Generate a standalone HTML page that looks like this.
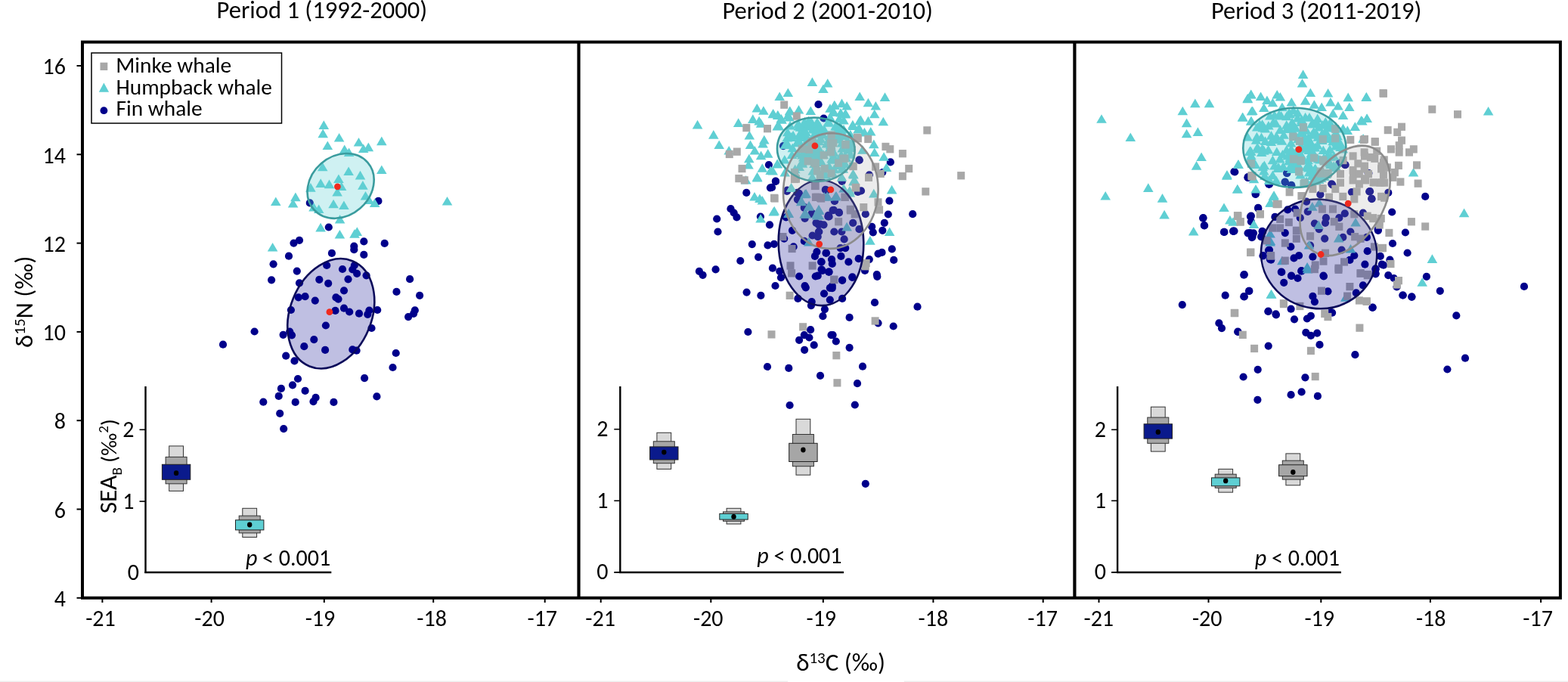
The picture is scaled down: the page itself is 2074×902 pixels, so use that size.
<!DOCTYPE html>
<html><head><meta charset="utf-8"><style>
html,body{margin:0;padding:0;background:#fff;}
svg{display:block;}
text{font-family:Carlito, 'Liberation Sans', sans-serif;fill:#000;}
</style></head><body>
<svg width="2074" height="902" viewBox="0 0 2074 902">
<text x="286.5" y="24.0" font-size="32.6" textLength="278.59" lengthAdjust="spacingAndGlyphs">Period 1 (1992-2000)</text>
<text x="955.4" y="24.6" font-size="32.6" textLength="278.59" lengthAdjust="spacingAndGlyphs">Period 2 (2001-2010)</text>
<text x="1601.9" y="24.6" font-size="32.6" textLength="278.59" lengthAdjust="spacingAndGlyphs">Period 3 (2011-2019)</text>
<line x1="101.5" y1="790.8" x2="108" y2="790.8" stroke="#000" stroke-width="2"/>
<text x="87" y="802.0" font-size="30" text-anchor="end" textLength="15.22" lengthAdjust="spacingAndGlyphs">4</text>
<line x1="101.5" y1="673.5" x2="108" y2="673.5" stroke="#000" stroke-width="2"/>
<text x="87" y="684.7" font-size="30" text-anchor="end" textLength="15.22" lengthAdjust="spacingAndGlyphs">6</text>
<line x1="101.5" y1="556.2" x2="108" y2="556.2" stroke="#000" stroke-width="2"/>
<text x="87" y="567.4" font-size="30" text-anchor="end" textLength="15.22" lengthAdjust="spacingAndGlyphs">8</text>
<line x1="101.5" y1="438.9" x2="108" y2="438.9" stroke="#000" stroke-width="2"/>
<text x="87" y="450.1" font-size="30" text-anchor="end" textLength="30.42" lengthAdjust="spacingAndGlyphs">10</text>
<line x1="101.5" y1="321.6" x2="108" y2="321.6" stroke="#000" stroke-width="2"/>
<text x="87" y="332.8" font-size="30" text-anchor="end" textLength="30.42" lengthAdjust="spacingAndGlyphs">12</text>
<line x1="101.5" y1="204.3" x2="108" y2="204.3" stroke="#000" stroke-width="2"/>
<text x="87" y="215.5" font-size="30" text-anchor="end" textLength="30.42" lengthAdjust="spacingAndGlyphs">14</text>
<line x1="101.5" y1="87.0" x2="108" y2="87.0" stroke="#000" stroke-width="2"/>
<text x="87" y="98.2" font-size="30" text-anchor="end" textLength="30.42" lengthAdjust="spacingAndGlyphs">16</text>
<text transform="translate(43,460) rotate(-90)" font-size="33" textLength="121.62" lengthAdjust="spacingAndGlyphs">δ<tspan font-size="21" dy="-10">15</tspan><tspan dy="10">N (‰)</tspan></text>
<line x1="135.4" y1="791" x2="135.4" y2="797" stroke="#000" stroke-width="2"/>
<text x="133.0" y="827.8" font-size="30" text-anchor="middle" textLength="39.61" lengthAdjust="spacingAndGlyphs">-21</text>
<line x1="279.6" y1="791" x2="279.6" y2="797" stroke="#000" stroke-width="2"/>
<text x="277.1" y="827.8" font-size="30" text-anchor="middle" textLength="39.61" lengthAdjust="spacingAndGlyphs">-20</text>
<line x1="428.8" y1="791" x2="428.8" y2="797" stroke="#000" stroke-width="2"/>
<text x="423.5" y="827.8" font-size="30" text-anchor="middle" textLength="39.61" lengthAdjust="spacingAndGlyphs">-19</text>
<line x1="573.2" y1="791" x2="573.2" y2="797" stroke="#000" stroke-width="2"/>
<text x="571.1" y="827.8" font-size="30" text-anchor="middle" textLength="39.61" lengthAdjust="spacingAndGlyphs">-18</text>
<line x1="720.7" y1="791" x2="720.7" y2="797" stroke="#000" stroke-width="2"/>
<text x="717.3" y="827.8" font-size="30" text-anchor="middle" textLength="39.61" lengthAdjust="spacingAndGlyphs">-17</text>
<line x1="794.7" y1="791" x2="794.7" y2="797" stroke="#000" stroke-width="2"/>
<text x="794.1" y="827.8" font-size="30" text-anchor="middle" textLength="39.61" lengthAdjust="spacingAndGlyphs">-21</text>
<line x1="940.3" y1="791" x2="940.3" y2="797" stroke="#000" stroke-width="2"/>
<text x="936.8" y="827.8" font-size="30" text-anchor="middle" textLength="39.61" lengthAdjust="spacingAndGlyphs">-20</text>
<line x1="1088.8" y1="791" x2="1088.8" y2="797" stroke="#000" stroke-width="2"/>
<text x="1086.3" y="827.8" font-size="30" text-anchor="middle" textLength="39.61" lengthAdjust="spacingAndGlyphs">-19</text>
<line x1="1234.4" y1="791" x2="1234.4" y2="797" stroke="#000" stroke-width="2"/>
<text x="1234.4" y="827.8" font-size="30" text-anchor="middle" textLength="39.61" lengthAdjust="spacingAndGlyphs">-18</text>
<line x1="1379.7" y1="791" x2="1379.7" y2="797" stroke="#000" stroke-width="2"/>
<text x="1379.1" y="827.8" font-size="30" text-anchor="middle" textLength="39.61" lengthAdjust="spacingAndGlyphs">-17</text>
<line x1="1453.5" y1="791" x2="1453.5" y2="797" stroke="#000" stroke-width="2"/>
<text x="1453.3" y="827.8" font-size="30" text-anchor="middle" textLength="39.61" lengthAdjust="spacingAndGlyphs">-21</text>
<line x1="1598.5" y1="791" x2="1598.5" y2="797" stroke="#000" stroke-width="2"/>
<text x="1596.7" y="827.8" font-size="30" text-anchor="middle" textLength="39.61" lengthAdjust="spacingAndGlyphs">-20</text>
<line x1="1747.3" y1="791" x2="1747.3" y2="797" stroke="#000" stroke-width="2"/>
<text x="1745.2" y="827.8" font-size="30" text-anchor="middle" textLength="39.61" lengthAdjust="spacingAndGlyphs">-19</text>
<line x1="1891.9" y1="791" x2="1891.9" y2="797" stroke="#000" stroke-width="2"/>
<text x="1892.7" y="827.8" font-size="30" text-anchor="middle" textLength="39.61" lengthAdjust="spacingAndGlyphs">-18</text>
<line x1="2038.1" y1="791" x2="2038.1" y2="797" stroke="#000" stroke-width="2"/>
<text x="2034.1" y="827.8" font-size="30" text-anchor="middle" textLength="39.61" lengthAdjust="spacingAndGlyphs">-17</text>
<text x="1053.2" y="887.3" font-size="33" textLength="117.91" lengthAdjust="spacingAndGlyphs">δ<tspan font-size="21" dy="-10">13</tspan><tspan dy="10">C (‰)</tspan></text>
<circle cx="409.8" cy="268.4" r="5.1" fill="#00008b"/>
<circle cx="500.4" cy="265.9" r="5.1" fill="#00008b"/>
<circle cx="434.8" cy="300.5" r="5.1" fill="#00008b"/>
<circle cx="396.0" cy="317.8" r="5.1" fill="#00008b"/>
<circle cx="388.5" cy="321.6" r="5.1" fill="#00008b"/>
<circle cx="481.3" cy="319.4" r="5.1" fill="#00008b"/>
<circle cx="508.7" cy="321.9" r="5.1" fill="#00008b"/>
<circle cx="468.3" cy="325.7" r="5.1" fill="#00008b"/>
<circle cx="468.3" cy="330.2" r="5.1" fill="#00008b"/>
<circle cx="438.9" cy="334.9" r="5.1" fill="#00008b"/>
<circle cx="481.3" cy="336.9" r="5.1" fill="#00008b"/>
<circle cx="382.0" cy="338.7" r="5.1" fill="#00008b"/>
<circle cx="361.6" cy="349.3" r="5.1" fill="#00008b"/>
<circle cx="432.2" cy="351.0" r="5.1" fill="#00008b"/>
<circle cx="468.8" cy="351.0" r="5.1" fill="#00008b"/>
<circle cx="453.0" cy="356.0" r="5.1" fill="#00008b"/>
<circle cx="466.3" cy="356.5" r="5.1" fill="#00008b"/>
<circle cx="472.1" cy="361.8" r="5.1" fill="#00008b"/>
<circle cx="484.6" cy="364.3" r="5.1" fill="#00008b"/>
<circle cx="392.8" cy="358.6" r="5.1" fill="#00008b"/>
<circle cx="359.1" cy="370.3" r="5.1" fill="#00008b"/>
<circle cx="422.3" cy="369.8" r="5.1" fill="#00008b"/>
<circle cx="434.2" cy="374.8" r="5.1" fill="#00008b"/>
<circle cx="460.5" cy="369.3" r="5.1" fill="#00008b"/>
<circle cx="396.0" cy="374.3" r="5.1" fill="#00008b"/>
<circle cx="455.0" cy="384.3" r="5.1" fill="#00008b"/>
<circle cx="524.5" cy="385.9" r="5.1" fill="#00008b"/>
<circle cx="394.8" cy="393.4" r="5.1" fill="#00008b"/>
<circle cx="403.6" cy="392.2" r="5.1" fill="#00008b"/>
<circle cx="416.8" cy="397.6" r="5.1" fill="#00008b"/>
<circle cx="444.4" cy="393.4" r="5.1" fill="#00008b"/>
<circle cx="447.5" cy="395.6" r="5.1" fill="#00008b"/>
<circle cx="384.9" cy="410.0" r="5.1" fill="#00008b"/>
<circle cx="443.5" cy="410.9" r="5.1" fill="#00008b"/>
<circle cx="455.0" cy="407.7" r="5.1" fill="#00008b"/>
<circle cx="462.2" cy="412.5" r="5.1" fill="#00008b"/>
<circle cx="475.0" cy="414.7" r="5.1" fill="#00008b"/>
<circle cx="488.4" cy="410.5" r="5.1" fill="#00008b"/>
<circle cx="486.3" cy="415.8" r="5.1" fill="#00008b"/>
<circle cx="499.2" cy="410.0" r="5.1" fill="#00008b"/>
<circle cx="430.9" cy="430.5" r="5.1" fill="#00008b"/>
<circle cx="491.5" cy="434.0" r="5.1" fill="#00008b"/>
<circle cx="336.6" cy="438.5" r="5.1" fill="#00008b"/>
<circle cx="374.6" cy="442.8" r="5.1" fill="#00008b"/>
<circle cx="383.2" cy="438.6" r="5.1" fill="#00008b"/>
<circle cx="386.0" cy="443.3" r="5.1" fill="#00008b"/>
<circle cx="415.3" cy="449.1" r="5.1" fill="#00008b"/>
<circle cx="402.3" cy="458.2" r="5.1" fill="#00008b"/>
<circle cx="430.1" cy="462.9" r="5.1" fill="#00008b"/>
<circle cx="466.3" cy="462.4" r="5.1" fill="#00008b"/>
<circle cx="471.6" cy="463.7" r="5.1" fill="#00008b"/>
<circle cx="523.7" cy="467.0" r="5.1" fill="#00008b"/>
<circle cx="378.2" cy="470.7" r="5.1" fill="#00008b"/>
<circle cx="389.5" cy="477.4" r="5.1" fill="#00008b"/>
<circle cx="519.5" cy="486.0" r="5.1" fill="#00008b"/>
<circle cx="394.0" cy="501.0" r="5.1" fill="#00008b"/>
<circle cx="387.0" cy="509.3" r="5.1" fill="#00008b"/>
<circle cx="371.9" cy="513.9" r="5.1" fill="#00008b"/>
<circle cx="403.6" cy="516.9" r="5.1" fill="#00008b"/>
<circle cx="482.1" cy="500.1" r="5.1" fill="#00008b"/>
<circle cx="368.7" cy="523.9" r="5.1" fill="#00008b"/>
<circle cx="417.6" cy="525.9" r="5.1" fill="#00008b"/>
<circle cx="414.5" cy="531.1" r="5.1" fill="#00008b"/>
<circle cx="348.3" cy="531.7" r="5.1" fill="#00008b"/>
<circle cx="390.7" cy="531.9" r="5.1" fill="#00008b"/>
<circle cx="441.4" cy="531.9" r="5.1" fill="#00008b"/>
<circle cx="498.4" cy="524.4" r="5.1" fill="#00008b"/>
<circle cx="370.2" cy="546.8" r="5.1" fill="#00008b"/>
<circle cx="375.2" cy="567.1" r="5.1" fill="#00008b"/>
<circle cx="295.0" cy="455.7" r="5.1" fill="#00008b"/>
<circle cx="555.1" cy="390.8" r="5.1" fill="#00008b"/>
<circle cx="548.8" cy="410.4" r="5.1" fill="#00008b"/>
<circle cx="547.1" cy="414.8" r="5.1" fill="#00008b"/>
<circle cx="540.1" cy="419.1" r="5.1" fill="#00008b"/>
<circle cx="542.1" cy="369.2" r="5.1" fill="#00008b"/>
<path d="M428.3 159.3L435.1 170.9H421.5Z" fill="#5fcfd3"/>
<path d="M427.2 170.6L434.0 182.2H420.4Z" fill="#5fcfd3"/>
<path d="M448.6 175.9L455.4 187.5H441.8Z" fill="#5fcfd3"/>
<path d="M433.3 186.4L440.1 198.0H426.5Z" fill="#5fcfd3"/>
<path d="M474.5 181.9L481.3 193.5H467.7Z" fill="#5fcfd3"/>
<path d="M504.8 180.6L511.6 192.2H498.0Z" fill="#5fcfd3"/>
<path d="M487.3 188.6L494.1 200.2H480.5Z" fill="#5fcfd3"/>
<path d="M480.7 190.5L487.5 202.1H473.9Z" fill="#5fcfd3"/>
<path d="M455.7 191.4L462.5 203.0H448.9Z" fill="#5fcfd3"/>
<path d="M461.6 195.5L468.4 207.1H454.8Z" fill="#5fcfd3"/>
<path d="M504.8 218.5L511.6 230.1H498.0Z" fill="#5fcfd3"/>
<path d="M426.7 214.7L433.5 226.3H419.9Z" fill="#5fcfd3"/>
<path d="M461.1 220.5L467.9 232.1H454.3Z" fill="#5fcfd3"/>
<path d="M476.5 225.8L483.3 237.4H469.7Z" fill="#5fcfd3"/>
<path d="M447.9 230.5L454.7 242.1H441.1Z" fill="#5fcfd3"/>
<path d="M424.2 236.3L431.0 247.9H417.4Z" fill="#5fcfd3"/>
<path d="M435.5 237.6L442.3 249.2H428.7Z" fill="#5fcfd3"/>
<path d="M479.9 239.1L486.7 250.7H473.1Z" fill="#5fcfd3"/>
<path d="M410.9 242.1L417.7 253.7H404.1Z" fill="#5fcfd3"/>
<path d="M451.6 240.4L458.4 252.0H444.8Z" fill="#5fcfd3"/>
<path d="M446.1 247.9L452.9 259.5H439.3Z" fill="#5fcfd3"/>
<path d="M483.5 252.9L490.3 264.5H476.7Z" fill="#5fcfd3"/>
<path d="M390.9 254.6L397.7 266.2H384.1Z" fill="#5fcfd3"/>
<path d="M364.8 260.4L371.6 272.0H358.0Z" fill="#5fcfd3"/>
<path d="M387.6 262.9L394.4 274.5H380.8Z" fill="#5fcfd3"/>
<path d="M488.2 258.4L495.0 270.0H481.4Z" fill="#5fcfd3"/>
<path d="M495.6 262.4L502.4 274.0H488.8Z" fill="#5fcfd3"/>
<path d="M441.1 263.7L447.9 275.3H434.3Z" fill="#5fcfd3"/>
<path d="M454.9 265.4L461.7 277.0H448.1Z" fill="#5fcfd3"/>
<path d="M415.0 267.9L421.8 279.5H408.2Z" fill="#5fcfd3"/>
<path d="M421.7 270.4L428.5 282.0H414.9Z" fill="#5fcfd3"/>
<path d="M449.6 284.0L456.4 295.6H442.8Z" fill="#5fcfd3"/>
<path d="M424.1 294.8L430.9 306.4H417.3Z" fill="#5fcfd3"/>
<path d="M449.4 303.9L456.2 315.5H442.6Z" fill="#5fcfd3"/>
<path d="M469.0 303.1L475.8 314.7H462.2Z" fill="#5fcfd3"/>
<path d="M472.3 300.3L479.1 311.9H465.5Z" fill="#5fcfd3"/>
<path d="M360.6 320.9L367.4 332.5H353.8Z" fill="#5fcfd3"/>
<path d="M591.5 260.0L598.3 271.6H584.7Z" fill="#5fcfd3"/>
<ellipse cx="437.8" cy="414.8" rx="75.2" ry="53.9" transform="rotate(112.2 437.8 414.8)" fill="#00008b" fill-opacity="0.25" stroke="#0a0a5a" stroke-width="2.6"/>
<ellipse cx="450.6" cy="245.9" rx="47.3" ry="39.3" transform="rotate(139.0 450.6 245.9)" fill="#5fcfd3" fill-opacity="0.3" stroke="#3a9c9e" stroke-width="2.6"/>
<circle cx="446.4" cy="246.8" r="4.4" fill="#f02a1e"/>
<circle cx="435.9" cy="412.7" r="4.4" fill="#f02a1e"/>
<circle cx="1082.5" cy="138.2" r="5.1" fill="#00008b"/>
<circle cx="1089.5" cy="156.5" r="5.1" fill="#00008b"/>
<circle cx="1036.0" cy="193.1" r="5.1" fill="#00008b"/>
<circle cx="1016.9" cy="218.0" r="5.1" fill="#00008b"/>
<circle cx="1025.9" cy="239.6" r="5.1" fill="#00008b"/>
<circle cx="1018.9" cy="248.3" r="5.1" fill="#00008b"/>
<circle cx="1177.8" cy="214.4" r="5.1" fill="#00008b"/>
<circle cx="1167.3" cy="228.0" r="5.1" fill="#00008b"/>
<circle cx="1149.8" cy="231.3" r="5.1" fill="#00008b"/>
<circle cx="1136.5" cy="211.4" r="5.1" fill="#00008b"/>
<circle cx="987.3" cy="254.9" r="5.1" fill="#00008b"/>
<circle cx="966.5" cy="276.2" r="5.1" fill="#00008b"/>
<circle cx="970.7" cy="281.5" r="5.1" fill="#00008b"/>
<circle cx="974.5" cy="287.4" r="5.1" fill="#00008b"/>
<circle cx="948.2" cy="289.5" r="5.1" fill="#00008b"/>
<circle cx="1005.9" cy="286.5" r="5.1" fill="#00008b"/>
<circle cx="1018.0" cy="297.3" r="5.1" fill="#00008b"/>
<circle cx="949.5" cy="306.5" r="5.1" fill="#00008b"/>
<circle cx="994.8" cy="323.1" r="5.1" fill="#00008b"/>
<circle cx="1015.5" cy="324.4" r="5.1" fill="#00008b"/>
<circle cx="1023.9" cy="322.8" r="5.1" fill="#00008b"/>
<circle cx="1003.1" cy="340.1" r="5.1" fill="#00008b"/>
<circle cx="979.3" cy="345.0" r="5.1" fill="#00008b"/>
<circle cx="946.6" cy="356.4" r="5.1" fill="#00008b"/>
<circle cx="924.9" cy="358.8" r="5.1" fill="#00008b"/>
<circle cx="929.6" cy="363.8" r="5.1" fill="#00008b"/>
<circle cx="1021.9" cy="354.7" r="5.1" fill="#00008b"/>
<circle cx="1031.3" cy="358.8" r="5.1" fill="#00008b"/>
<circle cx="1033.0" cy="367.2" r="5.1" fill="#00008b"/>
<circle cx="1025.5" cy="378.0" r="5.1" fill="#00008b"/>
<circle cx="1057.1" cy="365.5" r="5.1" fill="#00008b"/>
<circle cx="1078.7" cy="365.5" r="5.1" fill="#00008b"/>
<circle cx="1092.9" cy="334.7" r="5.1" fill="#00008b"/>
<circle cx="1077.9" cy="338.9" r="5.1" fill="#00008b"/>
<circle cx="1080.4" cy="333.1" r="5.1" fill="#00008b"/>
<circle cx="1086.2" cy="346.4" r="5.1" fill="#00008b"/>
<circle cx="1087.9" cy="358.0" r="5.1" fill="#00008b"/>
<circle cx="1096.2" cy="359.7" r="5.1" fill="#00008b"/>
<circle cx="1048.0" cy="304.8" r="5.1" fill="#00008b"/>
<circle cx="1037.2" cy="315.6" r="5.1" fill="#00008b"/>
<circle cx="1049.6" cy="326.4" r="5.1" fill="#00008b"/>
<circle cx="1063.8" cy="318.9" r="5.1" fill="#00008b"/>
<circle cx="1074.6" cy="311.5" r="5.1" fill="#00008b"/>
<circle cx="1082.9" cy="306.5" r="5.1" fill="#00008b"/>
<circle cx="1082.9" cy="297.3" r="5.1" fill="#00008b"/>
<circle cx="1089.5" cy="297.3" r="5.1" fill="#00008b"/>
<circle cx="1079.5" cy="294.8" r="5.1" fill="#00008b"/>
<circle cx="1064.6" cy="289.0" r="5.1" fill="#00008b"/>
<circle cx="1074.6" cy="283.2" r="5.1" fill="#00008b"/>
<circle cx="1095.3" cy="286.5" r="5.1" fill="#00008b"/>
<circle cx="1054.6" cy="254.9" r="5.1" fill="#00008b"/>
<circle cx="1041.3" cy="251.6" r="5.1" fill="#00008b"/>
<circle cx="1057.1" cy="264.9" r="5.1" fill="#00008b"/>
<circle cx="1063.8" cy="274.9" r="5.1" fill="#00008b"/>
<circle cx="1039.7" cy="287.4" r="5.1" fill="#00008b"/>
<circle cx="1064.6" cy="378.0" r="5.1" fill="#00008b"/>
<circle cx="1176.4" cy="265.7" r="5.1" fill="#00008b"/>
<circle cx="1174.8" cy="283.5" r="5.1" fill="#00008b"/>
<circle cx="1207.2" cy="283.2" r="5.1" fill="#00008b"/>
<circle cx="1169.8" cy="294.8" r="5.1" fill="#00008b"/>
<circle cx="1167.3" cy="304.8" r="5.1" fill="#00008b"/>
<circle cx="1153.2" cy="299.8" r="5.1" fill="#00008b"/>
<circle cx="1154.8" cy="307.3" r="5.1" fill="#00008b"/>
<circle cx="1179.8" cy="329.4" r="5.1" fill="#00008b"/>
<circle cx="1161.5" cy="335.6" r="5.1" fill="#00008b"/>
<circle cx="1166.5" cy="333.9" r="5.1" fill="#00008b"/>
<circle cx="1182.2" cy="343.9" r="5.1" fill="#00008b"/>
<circle cx="1149.8" cy="343.1" r="5.1" fill="#00008b"/>
<circle cx="1144.0" cy="358.0" r="5.1" fill="#00008b"/>
<circle cx="1159.8" cy="363.0" r="5.1" fill="#00008b"/>
<circle cx="1139.0" cy="252.4" r="5.1" fill="#00008b"/>
<circle cx="1144.8" cy="283.2" r="5.1" fill="#00008b"/>
<circle cx="1128.2" cy="294.8" r="5.1" fill="#00008b"/>
<circle cx="1136.5" cy="303.2" r="5.1" fill="#00008b"/>
<circle cx="1101.6" cy="278.2" r="5.1" fill="#00008b"/>
<circle cx="1109.9" cy="281.5" r="5.1" fill="#00008b"/>
<circle cx="1096.6" cy="286.5" r="5.1" fill="#00008b"/>
<circle cx="1085.0" cy="296.5" r="5.1" fill="#00008b"/>
<circle cx="1103.3" cy="306.5" r="5.1" fill="#00008b"/>
<circle cx="1113.3" cy="306.5" r="5.1" fill="#00008b"/>
<circle cx="1116.6" cy="316.4" r="5.1" fill="#00008b"/>
<circle cx="1083.3" cy="306.5" r="5.1" fill="#00008b"/>
<circle cx="1081.7" cy="313.1" r="5.1" fill="#00008b"/>
<circle cx="1111.6" cy="328.1" r="5.1" fill="#00008b"/>
<circle cx="1118.2" cy="328.1" r="5.1" fill="#00008b"/>
<circle cx="1092.5" cy="334.7" r="5.1" fill="#00008b"/>
<circle cx="1112.4" cy="338.9" r="5.1" fill="#00008b"/>
<circle cx="1086.6" cy="346.4" r="5.1" fill="#00008b"/>
<circle cx="1100.0" cy="343.1" r="5.1" fill="#00008b"/>
<circle cx="1100.8" cy="348.9" r="5.1" fill="#00008b"/>
<circle cx="1122.4" cy="346.4" r="5.1" fill="#00008b"/>
<circle cx="1135.7" cy="342.2" r="5.1" fill="#00008b"/>
<circle cx="1086.6" cy="356.4" r="5.1" fill="#00008b"/>
<circle cx="1096.6" cy="359.7" r="5.1" fill="#00008b"/>
<circle cx="1081.7" cy="364.7" r="5.1" fill="#00008b"/>
<circle cx="1127.4" cy="366.3" r="5.1" fill="#00008b"/>
<circle cx="1114.1" cy="370.5" r="5.1" fill="#00008b"/>
<circle cx="1100.8" cy="378.0" r="5.1" fill="#00008b"/>
<circle cx="1113.3" cy="238.3" r="5.1" fill="#00008b"/>
<circle cx="1093.3" cy="251.6" r="5.1" fill="#00008b"/>
<circle cx="1104.1" cy="265.7" r="5.1" fill="#00008b"/>
<circle cx="1065.8" cy="380.3" r="5.1" fill="#00008b"/>
<circle cx="987.6" cy="386.6" r="5.1" fill="#00008b"/>
<circle cx="1006.4" cy="390.8" r="5.1" fill="#00008b"/>
<circle cx="1055.4" cy="394.9" r="5.1" fill="#00008b"/>
<circle cx="1073.7" cy="399.1" r="5.1" fill="#00008b"/>
<circle cx="1072.9" cy="404.1" r="5.1" fill="#00008b"/>
<circle cx="1090.0" cy="388.3" r="5.1" fill="#00008b"/>
<circle cx="1097.8" cy="396.6" r="5.1" fill="#00008b"/>
<circle cx="1097.8" cy="380.8" r="5.1" fill="#00008b"/>
<circle cx="1090.9" cy="409.1" r="5.1" fill="#00008b"/>
<circle cx="1088.4" cy="418.2" r="5.1" fill="#00008b"/>
<circle cx="989.4" cy="439.0" r="5.1" fill="#00008b"/>
<circle cx="1072.1" cy="436.2" r="5.1" fill="#00008b"/>
<circle cx="1063.8" cy="443.1" r="5.1" fill="#00008b"/>
<circle cx="1070.4" cy="446.5" r="5.1" fill="#00008b"/>
<circle cx="1057.1" cy="449.8" r="5.1" fill="#00008b"/>
<circle cx="1076.7" cy="456.4" r="5.1" fill="#00008b"/>
<circle cx="1064.1" cy="462.8" r="5.1" fill="#00008b"/>
<circle cx="1099.5" cy="443.1" r="5.1" fill="#00008b"/>
<circle cx="1015.0" cy="485.0" r="5.1" fill="#00008b"/>
<circle cx="1043.3" cy="486.9" r="5.1" fill="#00008b"/>
<circle cx="1085.0" cy="496.8" r="5.1" fill="#00008b"/>
<circle cx="1100.8" cy="381.1" r="5.1" fill="#00008b"/>
<circle cx="1114.1" cy="394.9" r="5.1" fill="#00008b"/>
<circle cx="1157.0" cy="400.2" r="5.1" fill="#00008b"/>
<circle cx="1213.5" cy="405.7" r="5.1" fill="#00008b"/>
<circle cx="1123.6" cy="419.9" r="5.1" fill="#00008b"/>
<circle cx="1161.5" cy="427.3" r="5.1" fill="#00008b"/>
<circle cx="1181.7" cy="431.5" r="5.1" fill="#00008b"/>
<circle cx="1101.6" cy="443.1" r="5.1" fill="#00008b"/>
<circle cx="1105.8" cy="451.5" r="5.1" fill="#00008b"/>
<circle cx="1123.6" cy="459.8" r="5.1" fill="#00008b"/>
<circle cx="1141.0" cy="484.7" r="5.1" fill="#00008b"/>
<circle cx="1134.0" cy="507.1" r="5.1" fill="#00008b"/>
<circle cx="1114.1" cy="370.8" r="5.1" fill="#00008b"/>
<circle cx="1127.4" cy="367.0" r="5.1" fill="#00008b"/>
<circle cx="1160.3" cy="365.8" r="5.1" fill="#00008b"/>
<circle cx="1044.6" cy="536.0" r="5.1" fill="#00008b"/>
<circle cx="1130.8" cy="535.5" r="5.1" fill="#00008b"/>
<circle cx="1144.8" cy="639.8" r="5.1" fill="#00008b"/>
<circle cx="1026.0" cy="239.9" r="5.1" fill="#00008b"/>
<circle cx="1021.0" cy="247.9" r="5.1" fill="#00008b"/>
<circle cx="1040.9" cy="252.9" r="5.1" fill="#00008b"/>
<circle cx="1056.9" cy="255.9" r="5.1" fill="#00008b"/>
<circle cx="1054.9" cy="263.8" r="5.1" fill="#00008b"/>
<circle cx="1063.9" cy="273.8" r="5.1" fill="#00008b"/>
<circle cx="1073.9" cy="281.8" r="5.1" fill="#00008b"/>
<circle cx="1103.8" cy="265.8" r="5.1" fill="#00008b"/>
<circle cx="1102.8" cy="277.8" r="5.1" fill="#00008b"/>
<circle cx="1109.8" cy="280.8" r="5.1" fill="#00008b"/>
<circle cx="1095.8" cy="284.8" r="5.1" fill="#00008b"/>
<circle cx="1091.8" cy="250.9" r="5.1" fill="#00008b"/>
<circle cx="1113.8" cy="239.9" r="5.1" fill="#00008b"/>
<circle cx="1134.7" cy="253.9" r="5.1" fill="#00008b"/>
<circle cx="1136.7" cy="212.0" r="5.1" fill="#00008b"/>
<path d="M1074.4 102.3L1081.2 113.9H1067.6Z" fill="#5fcfd3"/>
<path d="M1094.7 104.0L1101.5 115.6H1087.9Z" fill="#5fcfd3"/>
<path d="M1088.9 111.4L1095.7 123.0H1082.1Z" fill="#5fcfd3"/>
<path d="M1042.3 116.4L1049.1 128.0H1035.5Z" fill="#5fcfd3"/>
<path d="M1031.2 121.4L1038.0 133.0H1024.4Z" fill="#5fcfd3"/>
<path d="M1001.3 136.9L1008.1 148.5H994.5Z" fill="#5fcfd3"/>
<path d="M1009.9 140.2L1016.7 151.8H1003.1Z" fill="#5fcfd3"/>
<path d="M1022.4 144.7L1029.2 156.3H1015.6Z" fill="#5fcfd3"/>
<path d="M1029.0 146.4L1035.8 158.0H1022.2Z" fill="#5fcfd3"/>
<path d="M1034.0 152.2L1040.8 163.8H1027.2Z" fill="#5fcfd3"/>
<path d="M1044.8 140.5L1051.6 152.1H1038.0Z" fill="#5fcfd3"/>
<path d="M1056.5 138.9L1063.3 150.5H1049.7Z" fill="#5fcfd3"/>
<path d="M1072.3 140.5L1079.1 152.1H1065.5Z" fill="#5fcfd3"/>
<path d="M1098.0 137.2L1104.8 148.8H1091.2Z" fill="#5fcfd3"/>
<path d="M1042.3 146.4L1049.1 158.0H1035.5Z" fill="#5fcfd3"/>
<path d="M995.8 151.3L1002.6 162.9H989.0Z" fill="#5fcfd3"/>
<path d="M1004.1 153.8L1010.9 165.4H997.3Z" fill="#5fcfd3"/>
<path d="M1006.6 157.2L1013.4 168.8H999.8Z" fill="#5fcfd3"/>
<path d="M976.7 156.3L983.5 167.9H969.9Z" fill="#5fcfd3"/>
<path d="M1030.2 160.5L1037.0 172.1H1023.4Z" fill="#5fcfd3"/>
<path d="M922.6 158.8L929.4 170.4H915.8Z" fill="#5fcfd3"/>
<path d="M943.8 172.1L950.6 183.7H937.0Z" fill="#5fcfd3"/>
<path d="M991.3 173.0L998.1 184.6H984.5Z" fill="#5fcfd3"/>
<path d="M1010.8 178.8L1017.6 190.4H1004.0Z" fill="#5fcfd3"/>
<path d="M951.2 185.4L958.0 197.0H944.4Z" fill="#5fcfd3"/>
<path d="M992.5 185.4L999.3 197.0H985.7Z" fill="#5fcfd3"/>
<path d="M1009.1 183.8L1015.9 195.4H1002.3Z" fill="#5fcfd3"/>
<path d="M998.3 192.9L1005.1 204.5H991.5Z" fill="#5fcfd3"/>
<path d="M1015.7 197.1L1022.5 208.7H1008.9Z" fill="#5fcfd3"/>
<path d="M1006.6 199.6L1013.4 211.2H999.8Z" fill="#5fcfd3"/>
<path d="M964.2 192.9L971.0 204.5H957.4Z" fill="#5fcfd3"/>
<path d="M990.8 203.7L997.6 215.3H984.0Z" fill="#5fcfd3"/>
<path d="M990.0 212.0L996.8 223.6H983.2Z" fill="#5fcfd3"/>
<path d="M1028.2 210.4L1035.0 222.0H1021.4Z" fill="#5fcfd3"/>
<path d="M1008.3 216.2L1015.1 227.8H1001.5Z" fill="#5fcfd3"/>
<path d="M1019.1 219.5L1025.9 231.1H1012.3Z" fill="#5fcfd3"/>
<path d="M1001.6 227.8L1008.4 239.4H994.8Z" fill="#5fcfd3"/>
<path d="M1038.2 222.0L1045.0 233.6H1031.4Z" fill="#5fcfd3"/>
<path d="M986.7 232.0L993.5 243.6H979.9Z" fill="#5fcfd3"/>
<path d="M1046.5 175.5L1053.3 187.1H1039.7Z" fill="#5fcfd3"/>
<path d="M1137.2 121.4L1144.0 133.0H1130.4Z" fill="#5fcfd3"/>
<path d="M1170.5 122.3L1177.3 133.9H1163.7Z" fill="#5fcfd3"/>
<path d="M1148.4 129.7L1155.2 141.3H1141.6Z" fill="#5fcfd3"/>
<path d="M1158.3 133.9L1165.1 145.5H1151.5Z" fill="#5fcfd3"/>
<path d="M1103.5 133.1L1110.3 144.7H1096.7Z" fill="#5fcfd3"/>
<path d="M1113.5 130.6L1120.3 142.2H1106.7Z" fill="#5fcfd3"/>
<path d="M1120.1 133.9L1126.9 145.5H1113.3Z" fill="#5fcfd3"/>
<path d="M1101.8 142.2L1108.6 153.8H1095.0Z" fill="#5fcfd3"/>
<path d="M1118.4 143.9L1125.2 155.5H1111.6Z" fill="#5fcfd3"/>
<path d="M1156.7 144.7L1163.5 156.3H1149.9Z" fill="#5fcfd3"/>
<path d="M1138.4 152.2L1145.2 163.8H1131.6Z" fill="#5fcfd3"/>
<path d="M1148.4 153.8L1155.2 165.4H1141.6Z" fill="#5fcfd3"/>
<path d="M1168.3 154.7L1175.1 166.3H1161.5Z" fill="#5fcfd3"/>
<path d="M1128.4 160.5L1135.2 172.1H1121.6Z" fill="#5fcfd3"/>
<path d="M1136.7 163.8L1143.5 175.4H1129.9Z" fill="#5fcfd3"/>
<path d="M1151.7 168.0L1158.5 179.6H1144.9Z" fill="#5fcfd3"/>
<path d="M1143.4 168.8L1150.2 180.4H1136.6Z" fill="#5fcfd3"/>
<path d="M1155.8 184.6L1162.6 196.2H1149.0Z" fill="#5fcfd3"/>
<path d="M1140.9 192.1L1147.7 203.7H1134.1Z" fill="#5fcfd3"/>
<path d="M1156.7 195.4L1163.5 207.0H1149.9Z" fill="#5fcfd3"/>
<path d="M1169.1 201.2L1175.9 212.8H1162.3Z" fill="#5fcfd3"/>
<path d="M1172.5 215.4L1179.3 227.0H1165.7Z" fill="#5fcfd3"/>
<path d="M1128.4 223.7L1135.2 235.3H1121.6Z" fill="#5fcfd3"/>
<path d="M1130.1 232.0L1136.9 243.6H1123.3Z" fill="#5fcfd3"/>
<path d="M1001.6 229.0L1008.4 240.6H994.8Z" fill="#5fcfd3"/>
<path d="M998.0 253.9L1004.8 265.5H991.2Z" fill="#5fcfd3"/>
<path d="M1004.9 256.4L1011.7 268.0H998.1Z" fill="#5fcfd3"/>
<path d="M1008.3 258.9L1015.1 270.5H1001.5Z" fill="#5fcfd3"/>
<path d="M1023.2 273.9L1030.0 285.5H1016.4Z" fill="#5fcfd3"/>
<path d="M1006.1 283.0L1012.9 294.6H999.3Z" fill="#5fcfd3"/>
<path d="M1046.5 242.3L1053.3 253.9H1039.7Z" fill="#5fcfd3"/>
<path d="M1064.8 250.6L1071.6 262.2H1058.0Z" fill="#5fcfd3"/>
<path d="M1059.8 260.6L1066.6 272.2H1053.0Z" fill="#5fcfd3"/>
<path d="M1069.8 267.2L1076.6 278.8H1063.0Z" fill="#5fcfd3"/>
<path d="M1083.1 272.2L1089.9 283.8H1076.3Z" fill="#5fcfd3"/>
<path d="M1066.5 277.2L1073.3 288.8H1059.7Z" fill="#5fcfd3"/>
<path d="M1080.6 278.9L1087.4 290.5H1073.8Z" fill="#5fcfd3"/>
<path d="M1043.2 276.4L1050.0 288.0H1036.4Z" fill="#5fcfd3"/>
<path d="M1069.8 313.8L1076.6 325.4H1063.0Z" fill="#5fcfd3"/>
<path d="M1094.7 253.9L1101.5 265.5H1087.9Z" fill="#5fcfd3"/>
<path d="M1113.5 228.2L1120.3 239.8H1106.7Z" fill="#5fcfd3"/>
<path d="M1179.6 244.8L1186.4 256.4H1172.8Z" fill="#5fcfd3"/>
<path d="M1155.8 249.8L1162.6 261.4H1149.0Z" fill="#5fcfd3"/>
<path d="M1105.1 253.9L1111.9 265.5H1098.3Z" fill="#5fcfd3"/>
<path d="M1090.2 253.9L1097.0 265.5H1083.4Z" fill="#5fcfd3"/>
<path d="M1083.5 272.2L1090.3 283.8H1076.7Z" fill="#5fcfd3"/>
<path d="M1083.5 278.9L1090.3 290.5H1076.7Z" fill="#5fcfd3"/>
<path d="M1120.1 293.8L1126.9 305.4H1113.3Z" fill="#5fcfd3"/>
<path d="M1176.6 300.5L1183.4 312.1H1169.8Z" fill="#5fcfd3"/>
<path d="M1150.9 312.1L1157.7 323.7H1144.1Z" fill="#5fcfd3"/>
<path d="M1124.3 248.9L1131.1 260.5H1117.5Z" fill="#5fcfd3"/>
<path d="M1044.6 140.9L1051.4 152.5H1037.8Z" fill="#5fcfd3"/>
<path d="M1022.7 143.9L1029.5 155.5H1015.9Z" fill="#5fcfd3"/>
<path d="M1028.7 145.9L1035.5 157.5H1021.9Z" fill="#5fcfd3"/>
<path d="M1033.2 150.8L1040.0 162.4H1026.4Z" fill="#5fcfd3"/>
<path d="M1044.1 148.8L1050.9 160.4H1037.3Z" fill="#5fcfd3"/>
<path d="M1028.2 160.8L1035.0 172.4H1021.4Z" fill="#5fcfd3"/>
<path d="M1045.1 159.8L1051.9 171.4H1038.3Z" fill="#5fcfd3"/>
<path d="M1049.1 172.8L1055.9 184.4H1042.3Z" fill="#5fcfd3"/>
<path d="M1104.0 132.9L1110.8 144.5H1097.2Z" fill="#5fcfd3"/>
<path d="M1103.0 141.9L1109.8 153.5H1096.2Z" fill="#5fcfd3"/>
<path d="M1112.0 142.9L1118.8 154.5H1105.2Z" fill="#5fcfd3"/>
<path d="M1118.0 144.9L1124.8 156.5H1111.2Z" fill="#5fcfd3"/>
<path d="M1110.0 150.8L1116.8 162.4H1103.2Z" fill="#5fcfd3"/>
<path d="M1116.0 152.8L1122.8 164.4H1109.2Z" fill="#5fcfd3"/>
<path d="M1127.9 158.8L1134.7 170.4H1121.1Z" fill="#5fcfd3"/>
<path d="M1136.9 153.8L1143.7 165.4H1130.1Z" fill="#5fcfd3"/>
<path d="M1098.0 148.8L1104.8 160.4H1091.2Z" fill="#5fcfd3"/>
<path d="M1134.9 164.8L1141.7 176.4H1128.1Z" fill="#5fcfd3"/>
<path d="M1076.1 162.8L1082.9 174.4H1069.3Z" fill="#5fcfd3"/>
<path d="M1090.0 164.8L1096.8 176.4H1083.2Z" fill="#5fcfd3"/>
<path d="M1105.0 160.8L1111.8 172.4H1098.2Z" fill="#5fcfd3"/>
<path d="M1116.0 164.8L1122.8 176.4H1109.2Z" fill="#5fcfd3"/>
<path d="M1064.1 167.8L1070.9 179.4H1057.3Z" fill="#5fcfd3"/>
<path d="M1082.0 170.8L1088.8 182.4H1075.2Z" fill="#5fcfd3"/>
<path d="M1047.1 174.8L1053.9 186.4H1040.3Z" fill="#5fcfd3"/>
<path d="M1124.9 171.8L1131.7 183.4H1118.1Z" fill="#5fcfd3"/>
<path d="M1046.6 241.9L1053.4 253.5H1039.8Z" fill="#5fcfd3"/>
<path d="M1066.1 249.9L1072.9 261.5H1059.3Z" fill="#5fcfd3"/>
<path d="M1060.1 259.8L1066.9 271.4H1053.3Z" fill="#5fcfd3"/>
<path d="M1070.1 265.8L1076.9 277.4H1063.3Z" fill="#5fcfd3"/>
<path d="M1083.0 270.8L1089.8 282.4H1076.2Z" fill="#5fcfd3"/>
<path d="M1064.1 276.8L1070.9 288.4H1057.3Z" fill="#5fcfd3"/>
<path d="M1080.1 276.8L1086.9 288.4H1073.3Z" fill="#5fcfd3"/>
<path d="M1094.0 253.9L1100.8 265.5H1087.2Z" fill="#5fcfd3"/>
<path d="M1106.0 252.9L1112.8 264.5H1099.2Z" fill="#5fcfd3"/>
<path d="M1128.9 224.9L1135.7 236.5H1122.1Z" fill="#5fcfd3"/>
<path d="M1128.9 233.9L1135.7 245.5H1122.1Z" fill="#5fcfd3"/>
<path d="M1028.2 211.0L1035.0 222.6H1021.4Z" fill="#5fcfd3"/>
<path d="M1024.2 272.8L1031.0 284.4H1017.4Z" fill="#5fcfd3"/>
<path d="M1043.1 275.8L1049.9 287.4H1036.3Z" fill="#5fcfd3"/>
<path d="M1022.2 219.9L1029.0 231.5H1015.4Z" fill="#5fcfd3"/>
<path d="M1123.9 245.9L1130.7 257.5H1117.1Z" fill="#5fcfd3"/>
<path d="M1116.0 242.9L1122.8 254.5H1109.2Z" fill="#5fcfd3"/>
<path d="M1061.9 162.7L1068.7 174.3H1055.1Z" fill="#5fcfd3"/>
<path d="M1094.9 156.2L1101.7 167.8H1088.1Z" fill="#5fcfd3"/>
<path d="M1083.3 180.6L1090.1 192.2H1076.5Z" fill="#5fcfd3"/>
<path d="M1073.0 156.0L1079.8 167.6H1066.2Z" fill="#5fcfd3"/>
<path d="M1038.4 185.4L1045.2 197.0H1031.6Z" fill="#5fcfd3"/>
<path d="M1041.7 168.7L1048.5 180.3H1034.9Z" fill="#5fcfd3"/>
<path d="M1124.9 198.1L1131.7 209.7H1118.1Z" fill="#5fcfd3"/>
<path d="M1058.5 162.2L1065.3 173.8H1051.7Z" fill="#5fcfd3"/>
<path d="M1041.1 175.8L1047.9 187.4H1034.3Z" fill="#5fcfd3"/>
<path d="M1047.5 198.5L1054.3 210.1H1040.7Z" fill="#5fcfd3"/>
<path d="M1066.8 195.7L1073.6 207.3H1060.0Z" fill="#5fcfd3"/>
<path d="M1060.9 198.8L1067.7 210.4H1054.1Z" fill="#5fcfd3"/>
<path d="M1075.0 175.1L1081.8 186.7H1068.2Z" fill="#5fcfd3"/>
<path d="M1109.4 208.2L1116.2 219.8H1102.6Z" fill="#5fcfd3"/>
<path d="M1117.6 210.7L1124.4 222.3H1110.8Z" fill="#5fcfd3"/>
<path d="M1041.1 184.9L1047.9 196.5H1034.3Z" fill="#5fcfd3"/>
<path d="M1096.7 213.7L1103.5 225.3H1089.9Z" fill="#5fcfd3"/>
<path d="M1087.1 222.9L1093.9 234.5H1080.3Z" fill="#5fcfd3"/>
<path d="M1060.9 207.9L1067.7 219.5H1054.1Z" fill="#5fcfd3"/>
<path d="M1089.2 198.3L1096.0 209.9H1082.4Z" fill="#5fcfd3"/>
<path d="M1075.3 219.9L1082.1 231.5H1068.5Z" fill="#5fcfd3"/>
<path d="M1124.6 189.6L1131.4 201.2H1117.8Z" fill="#5fcfd3"/>
<path d="M1096.3 155.2L1103.1 166.8H1089.5Z" fill="#5fcfd3"/>
<path d="M1100.1 203.9L1106.9 215.5H1093.3Z" fill="#5fcfd3"/>
<path d="M1057.9 182.2L1064.7 193.8H1051.1Z" fill="#5fcfd3"/>
<path d="M1075.8 164.1L1082.6 175.7H1069.0Z" fill="#5fcfd3"/>
<path d="M1106.8 160.9L1113.6 172.5H1100.0Z" fill="#5fcfd3"/>
<path d="M1054.2 182.6L1061.0 194.2H1047.4Z" fill="#5fcfd3"/>
<path d="M1116.5 173.3L1123.3 184.9H1109.7Z" fill="#5fcfd3"/>
<path d="M1071.1 180.0L1077.9 191.6H1064.3Z" fill="#5fcfd3"/>
<path d="M1088.7 172.0L1095.5 183.6H1081.9Z" fill="#5fcfd3"/>
<path d="M1066.5 197.2L1073.3 208.8H1059.7Z" fill="#5fcfd3"/>
<path d="M1081.3 201.5L1088.1 213.1H1074.5Z" fill="#5fcfd3"/>
<path d="M1068.8 183.3L1075.6 194.9H1062.0Z" fill="#5fcfd3"/>
<path d="M1117.5 201.2L1124.3 212.8H1110.7Z" fill="#5fcfd3"/>
<path d="M1066.0 160.4L1072.8 172.0H1059.2Z" fill="#5fcfd3"/>
<path d="M1076.3 190.4L1083.1 202.0H1069.5Z" fill="#5fcfd3"/>
<path d="M1063.8 172.2L1070.6 183.8H1057.0Z" fill="#5fcfd3"/>
<path d="M1112.9 163.6L1119.7 175.2H1106.1Z" fill="#5fcfd3"/>
<path d="M1082.6 162.4L1089.4 174.0H1075.8Z" fill="#5fcfd3"/>
<path d="M1116.4 208.0L1123.2 219.6H1109.6Z" fill="#5fcfd3"/>
<path d="M1055.6 180.6L1062.4 192.2H1048.8Z" fill="#5fcfd3"/>
<path d="M1107.9 177.6L1114.7 189.2H1101.1Z" fill="#5fcfd3"/>
<path d="M1051.7 217.6L1058.5 229.2H1044.9Z" fill="#5fcfd3"/>
<path d="M1115.3 217.1L1122.1 228.7H1108.5Z" fill="#5fcfd3"/>
<path d="M1111.9 211.6L1118.7 223.2H1105.1Z" fill="#5fcfd3"/>
<path d="M1057.4 171.7L1064.2 183.3H1050.6Z" fill="#5fcfd3"/>
<path d="M1074.4 228.0L1081.2 239.6H1067.6Z" fill="#5fcfd3"/>
<path d="M1066.0 168.5L1072.8 180.1H1059.2Z" fill="#5fcfd3"/>
<path d="M1092.2 224.9L1099.0 236.5H1085.4Z" fill="#5fcfd3"/>
<path d="M1114.1 190.0L1120.9 201.6H1107.3Z" fill="#5fcfd3"/>
<path d="M1095.2 216.6L1102.0 228.2H1088.4Z" fill="#5fcfd3"/>
<path d="M1037.8 205.0L1044.6 216.6H1031.0Z" fill="#5fcfd3"/>
<path d="M1108.2 212.5L1115.0 224.1H1101.4Z" fill="#5fcfd3"/>
<path d="M1077.5 165.0L1084.3 176.6H1070.7Z" fill="#5fcfd3"/>
<path d="M1108.9 177.8L1115.7 189.4H1102.1Z" fill="#5fcfd3"/>
<path d="M1069.2 183.5L1076.0 195.1H1062.4Z" fill="#5fcfd3"/>
<path d="M1110.7 162.3L1117.5 173.9H1103.9Z" fill="#5fcfd3"/>
<path d="M1095.6 179.3L1102.4 190.9H1088.8Z" fill="#5fcfd3"/>
<path d="M1084.6 161.1L1091.4 172.7H1077.8Z" fill="#5fcfd3"/>
<path d="M1094.8 193.9L1101.6 205.5H1088.0Z" fill="#5fcfd3"/>
<path d="M1123.5 186.2L1130.3 197.8H1116.7Z" fill="#5fcfd3"/>
<path d="M1071.5 161.1L1078.3 172.7H1064.7Z" fill="#5fcfd3"/>
<path d="M1121.1 179.6L1127.9 191.2H1114.3Z" fill="#5fcfd3"/>
<path d="M1075.5 198.6L1082.3 210.2H1068.7Z" fill="#5fcfd3"/>
<path d="M1120.5 185.1L1127.3 196.7H1113.7Z" fill="#5fcfd3"/>
<path d="M1121.9 191.8L1128.7 203.4H1115.1Z" fill="#5fcfd3"/>
<path d="M1082.9 193.7L1089.7 205.3H1076.1Z" fill="#5fcfd3"/>
<path d="M1109.9 164.5L1116.7 176.1H1103.1Z" fill="#5fcfd3"/>
<path d="M1077.0 210.4L1083.8 222.0H1070.2Z" fill="#5fcfd3"/>
<path d="M1085.4 177.3L1092.2 188.9H1078.6Z" fill="#5fcfd3"/>
<path d="M1081.6 196.3L1088.4 207.9H1074.8Z" fill="#5fcfd3"/>
<path d="M1085.8 170.8L1092.6 182.4H1079.0Z" fill="#5fcfd3"/>
<path d="M1057.2 214.3L1064.0 225.9H1050.4Z" fill="#5fcfd3"/>
<path d="M1080.5 196.8L1087.3 208.4H1073.7Z" fill="#5fcfd3"/>
<path d="M1074.0 201.0L1080.8 212.6H1067.2Z" fill="#5fcfd3"/>
<path d="M1080.3 192.7L1087.1 204.3H1073.5Z" fill="#5fcfd3"/>
<path d="M1099.2 187.7L1106.0 199.3H1092.4Z" fill="#5fcfd3"/>
<path d="M1083.1 189.9L1089.9 201.5H1076.3Z" fill="#5fcfd3"/>
<path d="M1055.4 196.6L1062.2 208.2H1048.6Z" fill="#5fcfd3"/>
<path d="M1073.9 156.2L1080.7 167.8H1067.1Z" fill="#5fcfd3"/>
<path d="M1096.8 215.3L1103.6 226.9H1090.0Z" fill="#5fcfd3"/>
<path d="M1101.5 205.0L1108.3 216.6H1094.7Z" fill="#5fcfd3"/>
<path d="M1125.4 183.3L1132.2 194.9H1118.6Z" fill="#5fcfd3"/>
<path d="M1072.8 193.0L1079.6 204.6H1066.0Z" fill="#5fcfd3"/>
<path d="M1063.5 166.4L1070.3 178.0H1056.7Z" fill="#5fcfd3"/>
<path d="M1061.4 210.1L1068.2 221.7H1054.6Z" fill="#5fcfd3"/>
<path d="M1062.7 202.0L1069.5 213.6H1055.9Z" fill="#5fcfd3"/>
<path d="M1080.9 155.5L1087.7 167.1H1074.1Z" fill="#5fcfd3"/>
<path d="M1107.9 172.6L1114.7 184.2H1101.1Z" fill="#5fcfd3"/>
<path d="M1042.3 185.2L1049.1 196.8H1035.5Z" fill="#5fcfd3"/>
<path d="M1111.9 171.7L1118.7 183.3H1105.1Z" fill="#5fcfd3"/>
<path d="M1086.8 208.3L1093.6 219.9H1080.0Z" fill="#5fcfd3"/>
<path d="M1098.7 185.5L1105.5 197.1H1091.9Z" fill="#5fcfd3"/>
<path d="M1093.3 216.7L1100.1 228.3H1086.5Z" fill="#5fcfd3"/>
<path d="M1075.0 178.3L1081.8 189.9H1068.2Z" fill="#5fcfd3"/>
<path d="M1085.1 227.1L1091.9 238.7H1078.3Z" fill="#5fcfd3"/>
<path d="M1056.3 160.9L1063.1 172.5H1049.5Z" fill="#5fcfd3"/>
<path d="M1082.4 170.0L1089.2 181.6H1075.6Z" fill="#5fcfd3"/>
<path d="M1060.7 175.5L1067.5 187.1H1053.9Z" fill="#5fcfd3"/>
<path d="M1105.9 174.3L1112.7 185.9H1099.1Z" fill="#5fcfd3"/>
<path d="M1079.7 165.0L1086.5 176.6H1072.9Z" fill="#5fcfd3"/>
<path d="M1103.2 195.9L1110.0 207.5H1096.4Z" fill="#5fcfd3"/>
<path d="M1048.3 189.6L1055.1 201.2H1041.5Z" fill="#5fcfd3"/>
<path d="M1072.8 191.3L1079.6 202.9H1066.0Z" fill="#5fcfd3"/>
<path d="M1113.5 182.8L1120.3 194.4H1106.7Z" fill="#5fcfd3"/>
<path d="M1080.4 207.3L1087.2 218.9H1073.6Z" fill="#5fcfd3"/>
<path d="M1113.3 208.9L1120.1 220.5H1106.5Z" fill="#5fcfd3"/>
<path d="M1093.4 183.8L1100.2 195.4H1086.6Z" fill="#5fcfd3"/>
<path d="M1064.3 154.7L1071.1 166.3H1057.5Z" fill="#5fcfd3"/>
<path d="M1104.0 171.4L1110.8 183.0H1097.2Z" fill="#5fcfd3"/>
<path d="M1096.9 173.6L1103.7 185.2H1090.1Z" fill="#5fcfd3"/>
<path d="M1084.5 170.5L1091.3 182.1H1077.7Z" fill="#5fcfd3"/>
<path d="M1067.7 189.6L1074.5 201.2H1060.9Z" fill="#5fcfd3"/>
<path d="M1080.0 166.9L1086.8 178.5H1073.2Z" fill="#5fcfd3"/>
<path d="M1055.9 157.6L1062.7 169.2H1049.1Z" fill="#5fcfd3"/>
<path d="M1069.6 153.7L1076.4 165.3H1062.8Z" fill="#5fcfd3"/>
<path d="M1105.0 204.8L1111.8 216.4H1098.2Z" fill="#5fcfd3"/>
<path d="M1101.5 223.2L1108.3 234.8H1094.7Z" fill="#5fcfd3"/>
<path d="M1068.5 177.3L1075.3 188.9H1061.7Z" fill="#5fcfd3"/>
<path d="M1102.3 203.6L1109.1 215.2H1095.5Z" fill="#5fcfd3"/>
<path d="M1119.3 202.3L1126.1 213.9H1112.5Z" fill="#5fcfd3"/>
<path d="M1103.3 217.6L1110.1 229.2H1096.5Z" fill="#5fcfd3"/>
<path d="M1113.5 217.0L1120.3 228.6H1106.7Z" fill="#5fcfd3"/>
<path d="M1112.7 198.7L1119.5 210.3H1105.9Z" fill="#5fcfd3"/>
<rect x="1032.2" y="133.5" width="10" height="10.3" fill="#a8a8a8"/>
<rect x="1048.8" y="148.4" width="10" height="10.3" fill="#a8a8a8"/>
<rect x="982.3" y="163.9" width="10" height="10.3" fill="#a8a8a8"/>
<rect x="1010.0" y="165.0" width="10" height="10.3" fill="#a8a8a8"/>
<rect x="969.8" y="195.5" width="10" height="10.3" fill="#a8a8a8"/>
<rect x="959.8" y="198.8" width="10" height="10.3" fill="#a8a8a8"/>
<rect x="976.5" y="217.9" width="10" height="10.3" fill="#a8a8a8"/>
<rect x="972.3" y="230.9" width="10" height="10.3" fill="#a8a8a8"/>
<rect x="979.8" y="233.2" width="10" height="10.3" fill="#a8a8a8"/>
<rect x="1047.1" y="230.4" width="10" height="10.3" fill="#a8a8a8"/>
<rect x="1221.3" y="167.2" width="10" height="10.3" fill="#a8a8a8"/>
<rect x="1143.2" y="178.8" width="10" height="10.3" fill="#a8a8a8"/>
<rect x="1129.9" y="178.0" width="10" height="10.3" fill="#a8a8a8"/>
<rect x="1166.4" y="188.8" width="10" height="10.3" fill="#a8a8a8"/>
<rect x="1172.3" y="192.1" width="10" height="10.3" fill="#a8a8a8"/>
<rect x="1188.9" y="198.0" width="10" height="10.3" fill="#a8a8a8"/>
<rect x="1197.2" y="217.9" width="10" height="10.3" fill="#a8a8a8"/>
<rect x="1188.9" y="227.9" width="10" height="10.3" fill="#a8a8a8"/>
<rect x="1266.2" y="227.1" width="10" height="10.3" fill="#a8a8a8"/>
<rect x="1153.1" y="215.4" width="10" height="10.3" fill="#a8a8a8"/>
<rect x="1159.8" y="224.6" width="10" height="10.3" fill="#a8a8a8"/>
<rect x="1144.0" y="229.6" width="10" height="10.3" fill="#a8a8a8"/>
<rect x="1123.2" y="214.6" width="10" height="10.3" fill="#a8a8a8"/>
<rect x="1113.2" y="186.3" width="10" height="10.3" fill="#a8a8a8"/>
<rect x="1019.7" y="257.3" width="10" height="10.3" fill="#a8a8a8"/>
<rect x="1073.7" y="240.7" width="10" height="10.3" fill="#a8a8a8"/>
<rect x="1076.2" y="255.7" width="10" height="10.3" fill="#a8a8a8"/>
<rect x="1081.2" y="257.3" width="10" height="10.3" fill="#a8a8a8"/>
<rect x="1030.5" y="308.0" width="10" height="10.3" fill="#a8a8a8"/>
<rect x="1042.6" y="323.8" width="10" height="10.3" fill="#a8a8a8"/>
<rect x="1040.5" y="346.3" width="10" height="10.3" fill="#a8a8a8"/>
<rect x="1042.1" y="356.2" width="10" height="10.3" fill="#a8a8a8"/>
<rect x="1069.6" y="346.3" width="10" height="10.3" fill="#a8a8a8"/>
<rect x="1048.0" y="231.5" width="10" height="10.3" fill="#a8a8a8"/>
<rect x="1219.3" y="248.2" width="10" height="10.3" fill="#a8a8a8"/>
<rect x="1127.4" y="243.2" width="10" height="10.3" fill="#a8a8a8"/>
<rect x="1112.4" y="255.7" width="10" height="10.3" fill="#a8a8a8"/>
<rect x="1080.0" y="256.5" width="10" height="10.3" fill="#a8a8a8"/>
<rect x="1137.3" y="269.0" width="10" height="10.3" fill="#a8a8a8"/>
<rect x="1156.5" y="262.3" width="10" height="10.3" fill="#a8a8a8"/>
<rect x="1158.1" y="272.3" width="10" height="10.3" fill="#a8a8a8"/>
<rect x="1119.9" y="273.1" width="10" height="10.3" fill="#a8a8a8"/>
<rect x="1125.7" y="278.1" width="10" height="10.3" fill="#a8a8a8"/>
<rect x="1104.1" y="288.1" width="10" height="10.3" fill="#a8a8a8"/>
<rect x="1140.7" y="342.9" width="10" height="10.3" fill="#a8a8a8"/>
<rect x="1139.8" y="347.1" width="10" height="10.3" fill="#a8a8a8"/>
<rect x="1098.3" y="364.6" width="10" height="10.3" fill="#a8a8a8"/>
<rect x="1039.6" y="385.7" width="10" height="10.3" fill="#a8a8a8"/>
<rect x="1057.1" y="427.2" width="10" height="10.3" fill="#a8a8a8"/>
<rect x="1015.5" y="437.2" width="10" height="10.3" fill="#a8a8a8"/>
<rect x="1098.3" y="364.9" width="10" height="10.3" fill="#a8a8a8"/>
<rect x="1152.6" y="419.3" width="10" height="10.3" fill="#a8a8a8"/>
<rect x="1101.3" y="465.0" width="10" height="10.3" fill="#a8a8a8"/>
<rect x="1102.4" y="501.2" width="10" height="10.3" fill="#a8a8a8"/>
<rect x="1045.9" y="231.8" width="10" height="10.3" fill="#a8a8a8"/>
<rect x="1019.0" y="256.7" width="10" height="10.3" fill="#a8a8a8"/>
<rect x="1072.9" y="240.8" width="10" height="10.3" fill="#a8a8a8"/>
<rect x="1073.9" y="255.7" width="10" height="10.3" fill="#a8a8a8"/>
<rect x="1080.8" y="256.7" width="10" height="10.3" fill="#a8a8a8"/>
<rect x="1112.8" y="255.7" width="10" height="10.3" fill="#a8a8a8"/>
<rect x="1126.7" y="242.8" width="10" height="10.3" fill="#a8a8a8"/>
<rect x="1119.7" y="271.7" width="10" height="10.3" fill="#a8a8a8"/>
<rect x="1123.7" y="214.9" width="10" height="10.3" fill="#a8a8a8"/>
<rect x="1094.8" y="173.2" width="10" height="10.3" fill="#a8a8a8"/>
<rect x="1128.7" y="176.7" width="10" height="10.3" fill="#a8a8a8"/>
<rect x="1063.6" y="208.1" width="10" height="10.3" fill="#a8a8a8"/>
<rect x="1073.9" y="211.1" width="10" height="10.3" fill="#a8a8a8"/>
<rect x="1093.8" y="184.2" width="10" height="10.3" fill="#a8a8a8"/>
<rect x="1046.0" y="222.8" width="10" height="10.3" fill="#a8a8a8"/>
<rect x="1065.2" y="192.6" width="10" height="10.3" fill="#a8a8a8"/>
<rect x="1110.2" y="204.7" width="10" height="10.3" fill="#a8a8a8"/>
<rect x="1094.8" y="188.4" width="10" height="10.3" fill="#a8a8a8"/>
<rect x="1094.5" y="224.3" width="10" height="10.3" fill="#a8a8a8"/>
<rect x="1085.8" y="218.0" width="10" height="10.3" fill="#a8a8a8"/>
<rect x="1097.4" y="184.1" width="10" height="10.3" fill="#a8a8a8"/>
<rect x="1104.1" y="210.5" width="10" height="10.3" fill="#a8a8a8"/>
<rect x="1068.5" y="182.5" width="10" height="10.3" fill="#a8a8a8"/>
<rect x="1112.5" y="204.5" width="10" height="10.3" fill="#a8a8a8"/>
<rect x="1075.8" y="220.9" width="10" height="10.3" fill="#a8a8a8"/>
<rect x="1079.7" y="227.7" width="10" height="10.3" fill="#a8a8a8"/>
<rect x="1113.6" y="185.8" width="10" height="10.3" fill="#a8a8a8"/>
<rect x="1055.6" y="191.7" width="10" height="10.3" fill="#a8a8a8"/>
<rect x="1093.9" y="196.0" width="10" height="10.3" fill="#a8a8a8"/>
<rect x="1084.6" y="200.2" width="10" height="10.3" fill="#a8a8a8"/>
<rect x="1072.4" y="210.2" width="10" height="10.3" fill="#a8a8a8"/>
<ellipse cx="1086.0" cy="321.2" rx="82.9" ry="56.3" transform="rotate(89.0 1086.0 321.2)" fill="#00008b" fill-opacity="0.25" stroke="#0a0a5a" stroke-width="2.6"/>
<ellipse cx="1079.3" cy="197.7" rx="51.4" ry="42.1" transform="rotate(5.0 1079.3 197.7)" fill="#5fcfd3" fill-opacity="0.3" stroke="#3a9c9e" stroke-width="2.6"/>
<ellipse cx="1098.8" cy="252.5" rx="76.4" ry="62.7" transform="rotate(93.4 1098.8 252.5)" fill="#a8a8a8" fill-opacity="0.22" stroke="#8c8c8c" stroke-width="2.6"/>
<circle cx="1077.9" cy="192.9" r="4.4" fill="#f02a1e"/>
<circle cx="1098.8" cy="250.9" r="4.4" fill="#f02a1e"/>
<circle cx="1083.7" cy="322.8" r="4.4" fill="#f02a1e"/>
<circle cx="1632.4" cy="227.0" r="5.1" fill="#00008b"/>
<circle cx="1591.5" cy="288.2" r="5.1" fill="#00008b"/>
<circle cx="1592.8" cy="298.1" r="5.1" fill="#00008b"/>
<circle cx="1619.4" cy="306.9" r="5.1" fill="#00008b"/>
<circle cx="1631.3" cy="305.6" r="5.1" fill="#00008b"/>
<circle cx="1654.0" cy="286.4" r="5.1" fill="#00008b"/>
<circle cx="1654.0" cy="308.5" r="5.1" fill="#00008b"/>
<circle cx="1633.3" cy="227.5" r="5.1" fill="#00008b"/>
<circle cx="1650.8" cy="235.0" r="5.1" fill="#00008b"/>
<circle cx="1702.3" cy="229.1" r="5.1" fill="#00008b"/>
<circle cx="1699.8" cy="240.8" r="5.1" fill="#00008b"/>
<circle cx="1708.1" cy="244.9" r="5.1" fill="#00008b"/>
<circle cx="1678.2" cy="243.3" r="5.1" fill="#00008b"/>
<circle cx="1660.8" cy="256.6" r="5.1" fill="#00008b"/>
<circle cx="1664.1" cy="274.9" r="5.1" fill="#00008b"/>
<circle cx="1654.9" cy="285.7" r="5.1" fill="#00008b"/>
<circle cx="1654.9" cy="293.2" r="5.1" fill="#00008b"/>
<circle cx="1632.5" cy="305.6" r="5.1" fill="#00008b"/>
<circle cx="1653.3" cy="308.1" r="5.1" fill="#00008b"/>
<circle cx="1656.6" cy="313.1" r="5.1" fill="#00008b"/>
<circle cx="1669.9" cy="306.5" r="5.1" fill="#00008b"/>
<circle cx="1668.2" cy="313.1" r="5.1" fill="#00008b"/>
<circle cx="1703.2" cy="277.4" r="5.1" fill="#00008b"/>
<circle cx="1713.1" cy="276.5" r="5.1" fill="#00008b"/>
<circle cx="1719.8" cy="288.2" r="5.1" fill="#00008b"/>
<circle cx="1728.1" cy="266.6" r="5.1" fill="#00008b"/>
<circle cx="1729.8" cy="279.9" r="5.1" fill="#00008b"/>
<circle cx="1761.3" cy="243.3" r="5.1" fill="#00008b"/>
<circle cx="1746.4" cy="257.4" r="5.1" fill="#00008b"/>
<circle cx="1787.9" cy="254.1" r="5.1" fill="#00008b"/>
<circle cx="1811.2" cy="253.3" r="5.1" fill="#00008b"/>
<circle cx="1814.5" cy="263.2" r="5.1" fill="#00008b"/>
<circle cx="1810.4" cy="229.1" r="5.1" fill="#00008b"/>
<circle cx="1778.8" cy="282.3" r="5.1" fill="#00008b"/>
<circle cx="1753.9" cy="288.2" r="5.1" fill="#00008b"/>
<circle cx="1771.3" cy="288.2" r="5.1" fill="#00008b"/>
<circle cx="1738.9" cy="295.6" r="5.1" fill="#00008b"/>
<circle cx="1753.0" cy="294.8" r="5.1" fill="#00008b"/>
<circle cx="1744.7" cy="303.1" r="5.1" fill="#00008b"/>
<circle cx="1699.8" cy="308.1" r="5.1" fill="#00008b"/>
<circle cx="1786.3" cy="306.5" r="5.1" fill="#00008b"/>
<circle cx="1802.9" cy="281.5" r="5.1" fill="#00008b"/>
<circle cx="1822.9" cy="304.8" r="5.1" fill="#00008b"/>
<circle cx="1752.2" cy="315.6" r="5.1" fill="#00008b"/>
<circle cx="1776.3" cy="313.9" r="5.1" fill="#00008b"/>
<circle cx="1807.9" cy="313.9" r="5.1" fill="#00008b"/>
<circle cx="1707.3" cy="326.4" r="5.1" fill="#00008b"/>
<circle cx="1733.1" cy="324.7" r="5.1" fill="#00008b"/>
<circle cx="1679.0" cy="330.6" r="5.1" fill="#00008b"/>
<circle cx="1670.7" cy="338.0" r="5.1" fill="#00008b"/>
<circle cx="1711.5" cy="341.4" r="5.1" fill="#00008b"/>
<circle cx="1718.1" cy="338.0" r="5.1" fill="#00008b"/>
<circle cx="1736.4" cy="339.7" r="5.1" fill="#00008b"/>
<circle cx="1774.6" cy="330.6" r="5.1" fill="#00008b"/>
<circle cx="1791.3" cy="338.0" r="5.1" fill="#00008b"/>
<circle cx="1785.4" cy="343.9" r="5.1" fill="#00008b"/>
<circle cx="1808.7" cy="332.2" r="5.1" fill="#00008b"/>
<circle cx="1827.8" cy="349.7" r="5.1" fill="#00008b"/>
<circle cx="1805.4" cy="349.7" r="5.1" fill="#00008b"/>
<circle cx="1819.5" cy="356.3" r="5.1" fill="#00008b"/>
<circle cx="1645.8" cy="363.0" r="5.1" fill="#00008b"/>
<circle cx="1694.8" cy="359.7" r="5.1" fill="#00008b"/>
<circle cx="1708.1" cy="364.6" r="5.1" fill="#00008b"/>
<circle cx="1721.4" cy="358.0" r="5.1" fill="#00008b"/>
<circle cx="1750.5" cy="364.6" r="5.1" fill="#00008b"/>
<circle cx="1679.9" cy="343.0" r="5.1" fill="#00008b"/>
<circle cx="1885.2" cy="259.9" r="5.1" fill="#00008b"/>
<circle cx="1841.2" cy="280.5" r="5.1" fill="#00008b"/>
<circle cx="1858.9" cy="307.5" r="5.1" fill="#00008b"/>
<circle cx="1842.0" cy="322.0" r="5.1" fill="#00008b"/>
<circle cx="1861.6" cy="334.5" r="5.1" fill="#00008b"/>
<circle cx="1836.3" cy="254.9" r="5.1" fill="#00008b"/>
<circle cx="1814.2" cy="262.6" r="5.1" fill="#00008b"/>
<circle cx="1812.1" cy="253.2" r="5.1" fill="#00008b"/>
<circle cx="1822.6" cy="303.7" r="5.1" fill="#00008b"/>
<circle cx="1825.8" cy="338.9" r="5.1" fill="#00008b"/>
<circle cx="1830.0" cy="350.7" r="5.1" fill="#00008b"/>
<circle cx="1838.4" cy="343.7" r="5.1" fill="#00008b"/>
<circle cx="1819.5" cy="355.3" r="5.1" fill="#00008b"/>
<circle cx="1819.5" cy="362.3" r="5.1" fill="#00008b"/>
<circle cx="1836.3" cy="364.2" r="5.1" fill="#00008b"/>
<circle cx="1843.7" cy="368.0" r="5.1" fill="#00008b"/>
<circle cx="1847.5" cy="379.5" r="5.1" fill="#00008b"/>
<circle cx="1886.9" cy="365.8" r="5.1" fill="#00008b"/>
<circle cx="1855.3" cy="390.5" r="5.1" fill="#00008b"/>
<circle cx="1867.3" cy="392.6" r="5.1" fill="#00008b"/>
<circle cx="1904.8" cy="384.8" r="5.1" fill="#00008b"/>
<circle cx="2016.0" cy="378.9" r="5.1" fill="#00008b"/>
<circle cx="1815.7" cy="406.5" r="5.1" fill="#00008b"/>
<circle cx="1926.3" cy="417.4" r="5.1" fill="#00008b"/>
<circle cx="1591.2" cy="288.6" r="5.1" fill="#00008b"/>
<circle cx="1593.1" cy="298.4" r="5.1" fill="#00008b"/>
<circle cx="1619.0" cy="306.9" r="5.1" fill="#00008b"/>
<circle cx="1631.2" cy="305.8" r="5.1" fill="#00008b"/>
<circle cx="1664.3" cy="275.7" r="5.1" fill="#00008b"/>
<circle cx="1650.6" cy="308.3" r="5.1" fill="#00008b"/>
<circle cx="1658.0" cy="308.3" r="5.1" fill="#00008b"/>
<circle cx="1655.9" cy="314.2" r="5.1" fill="#00008b"/>
<circle cx="1669.6" cy="305.8" r="5.1" fill="#00008b"/>
<circle cx="1668.5" cy="313.2" r="5.1" fill="#00008b"/>
<circle cx="1660.7" cy="257.0" r="5.1" fill="#00008b"/>
<circle cx="1679.0" cy="243.7" r="5.1" fill="#00008b"/>
<circle cx="1650.6" cy="234.2" r="5.1" fill="#00008b"/>
<circle cx="1686.4" cy="286.9" r="5.1" fill="#00008b"/>
<circle cx="1678.0" cy="331.1" r="5.1" fill="#00008b"/>
<circle cx="1670.6" cy="338.5" r="5.1" fill="#00008b"/>
<circle cx="1681.2" cy="343.7" r="5.1" fill="#00008b"/>
<circle cx="1645.3" cy="363.7" r="5.1" fill="#00008b"/>
<circle cx="1652.3" cy="384.8" r="5.1" fill="#00008b"/>
<circle cx="1645.3" cy="392.2" r="5.1" fill="#00008b"/>
<circle cx="1620.7" cy="390.7" r="5.1" fill="#00008b"/>
<circle cx="1563.8" cy="403.1" r="5.1" fill="#00008b"/>
<circle cx="1677.6" cy="411.6" r="5.1" fill="#00008b"/>
<circle cx="1687.5" cy="415.3" r="5.1" fill="#00008b"/>
<circle cx="1708.1" cy="365.0" r="5.1" fill="#00008b"/>
<circle cx="1716.5" cy="368.0" r="5.1" fill="#00008b"/>
<circle cx="1698.2" cy="373.8" r="5.1" fill="#00008b"/>
<circle cx="1721.4" cy="358.7" r="5.1" fill="#00008b"/>
<circle cx="1750.9" cy="365.5" r="5.1" fill="#00008b"/>
<circle cx="1756.4" cy="385.3" r="5.1" fill="#00008b"/>
<circle cx="1736.4" cy="391.9" r="5.1" fill="#00008b"/>
<circle cx="1738.9" cy="399.1" r="5.1" fill="#00008b"/>
<circle cx="1802.9" cy="377.4" r="5.1" fill="#00008b"/>
<circle cx="1793.8" cy="387.4" r="5.1" fill="#00008b"/>
<circle cx="1819.5" cy="361.6" r="5.1" fill="#00008b"/>
<circle cx="1815.4" cy="406.9" r="5.1" fill="#00008b"/>
<circle cx="1707.6" cy="408.7" r="5.1" fill="#00008b"/>
<circle cx="1677.4" cy="412.0" r="5.1" fill="#00008b"/>
<circle cx="1687.9" cy="416.5" r="5.1" fill="#00008b"/>
<circle cx="1712.0" cy="422.3" r="5.1" fill="#00008b"/>
<circle cx="1728.9" cy="421.5" r="5.1" fill="#00008b"/>
<circle cx="1733.9" cy="417.8" r="5.1" fill="#00008b"/>
<circle cx="1760.5" cy="413.2" r="5.1" fill="#00008b"/>
<circle cx="1637.5" cy="439.0" r="5.1" fill="#00008b"/>
<circle cx="1727.3" cy="439.8" r="5.1" fill="#00008b"/>
<circle cx="1733.9" cy="443.9" r="5.1" fill="#00008b"/>
<circle cx="1742.2" cy="440.6" r="5.1" fill="#00008b"/>
<circle cx="1745.5" cy="455.9" r="5.1" fill="#00008b"/>
<circle cx="1677.7" cy="457.6" r="5.1" fill="#00008b"/>
<circle cx="1792.4" cy="469.2" r="5.1" fill="#00008b"/>
<circle cx="1663.7" cy="488.8" r="5.1" fill="#00008b"/>
<circle cx="1644.6" cy="498.5" r="5.1" fill="#00008b"/>
<circle cx="1726.4" cy="499.3" r="5.1" fill="#00008b"/>
<circle cx="1652.1" cy="384.9" r="5.1" fill="#00008b"/>
<circle cx="1645.8" cy="392.4" r="5.1" fill="#00008b"/>
<circle cx="1695.3" cy="360.0" r="5.1" fill="#00008b"/>
<circle cx="1612.4" cy="427.4" r="5.1" fill="#00008b"/>
<circle cx="1616.0" cy="434.1" r="5.1" fill="#00008b"/>
<circle cx="1637.3" cy="438.7" r="5.1" fill="#00008b"/>
<circle cx="1707.6" cy="522.2" r="5.1" fill="#00008b"/>
<circle cx="1721.6" cy="518.4" r="5.1" fill="#00008b"/>
<circle cx="1742.9" cy="523.9" r="5.1" fill="#00008b"/>
<circle cx="1663.4" cy="528.8" r="5.1" fill="#00008b"/>
<circle cx="1938.0" cy="473.7" r="5.1" fill="#00008b"/>
<circle cx="1914.4" cy="488.5" r="5.1" fill="#00008b"/>
<circle cx="1762.1" cy="413.7" r="5.1" fill="#00008b"/>
<circle cx="1855.8" cy="390.5" r="5.1" fill="#00008b"/>
<circle cx="1867.4" cy="392.6" r="5.1" fill="#00008b"/>
<circle cx="1702.1" cy="228.8" r="5.1" fill="#00008b"/>
<circle cx="1699.6" cy="240.6" r="5.1" fill="#00008b"/>
<circle cx="1708.3" cy="245.6" r="5.1" fill="#00008b"/>
<circle cx="1678.5" cy="243.7" r="5.1" fill="#00008b"/>
<circle cx="1650.6" cy="235.0" r="5.1" fill="#00008b"/>
<circle cx="1762.3" cy="244.3" r="5.1" fill="#00008b"/>
<circle cx="1779.1" cy="218.2" r="5.1" fill="#00008b"/>
<circle cx="1771.6" cy="215.7" r="5.1" fill="#00008b"/>
<circle cx="1809.6" cy="228.8" r="5.1" fill="#00008b"/>
<circle cx="1779.6" cy="218.0" r="5.1" fill="#00008b"/>
<path d="M1457.0 151.2L1463.8 162.8H1450.2Z" fill="#5fcfd3"/>
<path d="M1495.3 175.4L1502.1 187.0H1488.5Z" fill="#5fcfd3"/>
<path d="M1564.3 140.7L1571.1 152.3H1557.5Z" fill="#5fcfd3"/>
<path d="M1580.8 130.6L1587.6 142.2H1574.0Z" fill="#5fcfd3"/>
<path d="M1599.5 130.6L1606.3 142.2H1592.7Z" fill="#5fcfd3"/>
<path d="M1569.6 156.6L1576.4 168.2H1562.8Z" fill="#5fcfd3"/>
<path d="M1569.6 170.7L1576.4 182.3H1562.8Z" fill="#5fcfd3"/>
<path d="M1584.4 168.3L1591.2 179.9H1577.6Z" fill="#5fcfd3"/>
<path d="M1589.1 201.4L1595.9 213.0H1582.3Z" fill="#5fcfd3"/>
<path d="M1582.6 213.1L1589.4 224.7H1575.8Z" fill="#5fcfd3"/>
<path d="M1654.7 118.6L1661.5 130.2H1647.9Z" fill="#5fcfd3"/>
<path d="M1650.3 124.6L1657.1 136.2H1643.5Z" fill="#5fcfd3"/>
<path d="M1655.5 141.0L1662.3 152.6H1648.7Z" fill="#5fcfd3"/>
<path d="M1643.8 148.8L1650.6 160.4H1637.0Z" fill="#5fcfd3"/>
<path d="M1654.7 154.0L1661.5 165.6H1647.9Z" fill="#5fcfd3"/>
<path d="M1638.1 211.3L1644.9 222.9H1631.3Z" fill="#5fcfd3"/>
<path d="M1623.0 224.9L1629.8 236.5H1616.2Z" fill="#5fcfd3"/>
<path d="M1636.8 243.9L1643.6 255.5H1630.0Z" fill="#5fcfd3"/>
<path d="M1518.8 242.3L1525.6 253.9H1512.0Z" fill="#5fcfd3"/>
<path d="M1462.2 253.0L1469.0 264.6H1455.4Z" fill="#5fcfd3"/>
<path d="M1537.5 256.1L1544.3 267.7H1530.7Z" fill="#5fcfd3"/>
<path d="M1540.1 277.8L1546.9 289.4H1533.3Z" fill="#5fcfd3"/>
<path d="M1619.0 268.4L1625.8 280.0H1612.2Z" fill="#5fcfd3"/>
<path d="M1626.9 284.8L1633.7 296.4H1620.1Z" fill="#5fcfd3"/>
<path d="M1578.7 299.9L1585.5 311.5H1571.9Z" fill="#5fcfd3"/>
<path d="M1650.3 174.9L1657.1 186.5H1643.5Z" fill="#5fcfd3"/>
<path d="M1653.7 193.6L1660.5 205.2H1646.9Z" fill="#5fcfd3"/>
<path d="M1723.6 92.3L1730.4 103.9H1716.8Z" fill="#5fcfd3"/>
<path d="M1722.5 103.9L1729.3 115.5H1715.7Z" fill="#5fcfd3"/>
<path d="M1654.8 118.9L1661.6 130.5H1648.0Z" fill="#5fcfd3"/>
<path d="M1650.2 123.9L1657.0 135.5H1643.4Z" fill="#5fcfd3"/>
<path d="M1667.6 121.4L1674.4 133.0H1660.8Z" fill="#5fcfd3"/>
<path d="M1689.2 118.9L1696.0 130.5H1682.4Z" fill="#5fcfd3"/>
<path d="M1693.4 121.9L1700.2 133.5H1686.6Z" fill="#5fcfd3"/>
<path d="M1675.9 126.4L1682.7 138.0H1669.1Z" fill="#5fcfd3"/>
<path d="M1683.4 129.7L1690.2 141.3H1676.6Z" fill="#5fcfd3"/>
<path d="M1733.3 116.4L1740.1 128.0H1726.5Z" fill="#5fcfd3"/>
<path d="M1756.6 116.9L1763.4 128.5H1749.8Z" fill="#5fcfd3"/>
<path d="M1783.2 122.6L1790.0 134.2H1776.4Z" fill="#5fcfd3"/>
<path d="M1807.3 121.9L1814.1 133.5H1800.5Z" fill="#5fcfd3"/>
<path d="M1708.3 128.9L1715.1 140.5H1701.5Z" fill="#5fcfd3"/>
<path d="M1726.6 127.2L1733.4 138.8H1719.8Z" fill="#5fcfd3"/>
<path d="M1738.3 132.2L1745.1 143.8H1731.5Z" fill="#5fcfd3"/>
<path d="M1748.2 135.5L1755.0 147.1H1741.4Z" fill="#5fcfd3"/>
<path d="M1759.9 128.9L1766.7 140.5H1753.1Z" fill="#5fcfd3"/>
<path d="M1769.9 133.9L1776.7 145.5H1763.1Z" fill="#5fcfd3"/>
<path d="M1671.8 136.4L1678.6 148.0H1665.0Z" fill="#5fcfd3"/>
<path d="M1656.8 140.5L1663.6 152.1H1650.0Z" fill="#5fcfd3"/>
<path d="M1695.9 135.5L1702.7 147.1H1689.1Z" fill="#5fcfd3"/>
<path d="M1784.8 135.5L1791.6 147.1H1778.0Z" fill="#5fcfd3"/>
<path d="M1763.2 143.8L1770.0 155.4H1756.4Z" fill="#5fcfd3"/>
<path d="M1776.5 146.3L1783.3 157.9H1769.7Z" fill="#5fcfd3"/>
<path d="M1643.5 148.8L1650.3 160.4H1636.7Z" fill="#5fcfd3"/>
<path d="M1655.1 153.8L1661.9 165.4H1648.3Z" fill="#5fcfd3"/>
<path d="M1800.6 153.0L1807.4 164.6H1793.8Z" fill="#5fcfd3"/>
<path d="M1808.1 150.5L1814.9 162.1H1801.3Z" fill="#5fcfd3"/>
<path d="M1792.3 161.3L1799.1 172.9H1785.5Z" fill="#5fcfd3"/>
<path d="M1776.5 163.8L1783.3 175.4H1769.7Z" fill="#5fcfd3"/>
<path d="M1782.3 166.3L1789.1 177.9H1775.5Z" fill="#5fcfd3"/>
<path d="M1803.1 177.1L1809.9 188.7H1796.3Z" fill="#5fcfd3"/>
<path d="M1637.7 211.2L1644.5 222.8H1630.9Z" fill="#5fcfd3"/>
<path d="M1636.8 243.9L1643.6 255.5H1630.0Z" fill="#5fcfd3"/>
<path d="M1661.0 243.9L1667.8 255.5H1654.2Z" fill="#5fcfd3"/>
<path d="M1685.1 252.2L1691.9 263.8H1678.3Z" fill="#5fcfd3"/>
<path d="M1680.1 262.2L1686.9 273.8H1673.3Z" fill="#5fcfd3"/>
<path d="M1658.5 290.5L1665.3 302.1H1651.7Z" fill="#5fcfd3"/>
<path d="M1631.0 287.2L1637.8 298.8H1624.2Z" fill="#5fcfd3"/>
<path d="M1735.8 267.2L1742.6 278.8H1729.0Z" fill="#5fcfd3"/>
<path d="M1744.9 262.2L1751.7 273.8H1738.1Z" fill="#5fcfd3"/>
<path d="M1744.1 291.3L1750.9 302.9H1737.3Z" fill="#5fcfd3"/>
<path d="M1793.1 288.0L1799.9 299.6H1786.3Z" fill="#5fcfd3"/>
<path d="M1770.7 308.8L1777.5 320.4H1763.9Z" fill="#5fcfd3"/>
<path d="M1680.1 302.9L1686.9 314.5H1673.3Z" fill="#5fcfd3"/>
<path d="M1680.1 313.8L1686.9 325.4H1673.3Z" fill="#5fcfd3"/>
<path d="M1786.5 322.9L1793.3 334.5H1779.7Z" fill="#5fcfd3"/>
<path d="M1695.9 338.7L1702.7 350.3H1689.1Z" fill="#5fcfd3"/>
<path d="M1729.1 347.0L1735.9 358.6H1722.3Z" fill="#5fcfd3"/>
<path d="M1731.6 317.9L1738.4 329.5H1724.8Z" fill="#5fcfd3"/>
<path d="M1671.8 219.8L1678.6 231.4H1665.0Z" fill="#5fcfd3"/>
<path d="M1683.4 225.6L1690.2 237.2H1676.6Z" fill="#5fcfd3"/>
<path d="M1690.1 216.5L1696.9 228.1H1683.3Z" fill="#5fcfd3"/>
<path d="M1658.5 230.6L1665.3 242.2H1651.7Z" fill="#5fcfd3"/>
<path d="M1720.0 224.8L1726.8 236.4H1713.2Z" fill="#5fcfd3"/>
<path d="M1708.3 217.3L1715.1 228.9H1701.5Z" fill="#5fcfd3"/>
<path d="M1738.3 229.8L1745.1 241.4H1731.5Z" fill="#5fcfd3"/>
<path d="M1807.3 122.3L1814.1 133.9H1800.5Z" fill="#5fcfd3"/>
<path d="M1808.0 150.5L1814.8 162.1H1801.2Z" fill="#5fcfd3"/>
<path d="M1801.9 153.9L1808.7 165.5H1795.1Z" fill="#5fcfd3"/>
<path d="M1968.6 140.9L1975.4 152.5H1961.8Z" fill="#5fcfd3"/>
<path d="M1869.5 222.0L1876.3 233.6H1862.7Z" fill="#5fcfd3"/>
<path d="M1936.6 275.6L1943.4 287.2H1929.8Z" fill="#5fcfd3"/>
<path d="M1894.4 336.3L1901.2 347.9H1887.6Z" fill="#5fcfd3"/>
<path d="M1881.2 367.2L1888.0 378.8H1874.4Z" fill="#5fcfd3"/>
<path d="M1622.8 226.1L1629.6 237.7H1616.0Z" fill="#5fcfd3"/>
<path d="M1684.5 253.5L1691.3 265.1H1677.7Z" fill="#5fcfd3"/>
<path d="M1680.3 261.9L1687.1 273.5H1673.5Z" fill="#5fcfd3"/>
<path d="M1680.3 312.5L1687.1 324.1H1673.5Z" fill="#5fcfd3"/>
<path d="M1681.4 383.0L1688.2 394.6H1674.6Z" fill="#5fcfd3"/>
<path d="M1729.6 349.8L1736.4 361.4H1722.8Z" fill="#5fcfd3"/>
<path d="M1779.8 387.2L1786.6 398.8H1773.0Z" fill="#5fcfd3"/>
<path d="M1681.7 383.1L1688.5 394.7H1674.9Z" fill="#5fcfd3"/>
<path d="M1706.0 195.6L1712.8 207.2H1699.2Z" fill="#5fcfd3"/>
<path d="M1770.2 185.7L1777.0 197.3H1763.4Z" fill="#5fcfd3"/>
<path d="M1713.6 198.5L1720.4 210.1H1706.8Z" fill="#5fcfd3"/>
<path d="M1669.6 190.6L1676.4 202.2H1662.8Z" fill="#5fcfd3"/>
<path d="M1685.8 146.2L1692.6 157.8H1679.0Z" fill="#5fcfd3"/>
<path d="M1733.4 201.5L1740.2 213.1H1726.6Z" fill="#5fcfd3"/>
<path d="M1716.4 143.0L1723.2 154.6H1709.6Z" fill="#5fcfd3"/>
<path d="M1707.6 183.0L1714.4 194.6H1700.8Z" fill="#5fcfd3"/>
<path d="M1759.1 191.3L1765.9 202.9H1752.3Z" fill="#5fcfd3"/>
<path d="M1731.6 189.3L1738.4 200.9H1724.8Z" fill="#5fcfd3"/>
<path d="M1734.6 184.8L1741.4 196.4H1727.8Z" fill="#5fcfd3"/>
<path d="M1740.8 169.9L1747.6 181.5H1734.0Z" fill="#5fcfd3"/>
<path d="M1748.7 178.8L1755.5 190.4H1741.9Z" fill="#5fcfd3"/>
<path d="M1759.6 177.4L1766.4 189.0H1752.8Z" fill="#5fcfd3"/>
<path d="M1768.3 186.1L1775.1 197.7H1761.5Z" fill="#5fcfd3"/>
<path d="M1654.4 202.9L1661.2 214.5H1647.6Z" fill="#5fcfd3"/>
<path d="M1668.7 195.5L1675.5 207.1H1661.9Z" fill="#5fcfd3"/>
<path d="M1732.0 149.0L1738.8 160.6H1725.2Z" fill="#5fcfd3"/>
<path d="M1701.7 159.1L1708.5 170.7H1694.9Z" fill="#5fcfd3"/>
<path d="M1753.8 168.7L1760.6 180.3H1747.0Z" fill="#5fcfd3"/>
<path d="M1673.5 163.9L1680.3 175.5H1666.7Z" fill="#5fcfd3"/>
<path d="M1726.3 175.8L1733.1 187.4H1719.5Z" fill="#5fcfd3"/>
<path d="M1710.3 197.1L1717.1 208.7H1703.5Z" fill="#5fcfd3"/>
<path d="M1755.7 162.9L1762.5 174.5H1748.9Z" fill="#5fcfd3"/>
<path d="M1670.3 214.5L1677.1 226.1H1663.5Z" fill="#5fcfd3"/>
<path d="M1764.5 200.2L1771.3 211.8H1757.7Z" fill="#5fcfd3"/>
<path d="M1701.8 147.6L1708.6 159.2H1695.0Z" fill="#5fcfd3"/>
<path d="M1756.5 199.4L1763.3 211.0H1749.7Z" fill="#5fcfd3"/>
<path d="M1684.4 155.2L1691.2 166.8H1677.6Z" fill="#5fcfd3"/>
<path d="M1728.0 166.2L1734.8 177.8H1721.2Z" fill="#5fcfd3"/>
<path d="M1705.1 143.1L1711.9 154.7H1698.3Z" fill="#5fcfd3"/>
<path d="M1668.5 175.5L1675.3 187.1H1661.7Z" fill="#5fcfd3"/>
<path d="M1662.4 174.8L1669.2 186.4H1655.6Z" fill="#5fcfd3"/>
<path d="M1738.5 198.2L1745.3 209.8H1731.7Z" fill="#5fcfd3"/>
<path d="M1710.1 213.5L1716.9 225.1H1703.3Z" fill="#5fcfd3"/>
<path d="M1654.7 194.1L1661.5 205.7H1647.9Z" fill="#5fcfd3"/>
<path d="M1766.9 214.2L1773.7 225.8H1760.1Z" fill="#5fcfd3"/>
<path d="M1740.2 220.2L1747.0 231.8H1733.4Z" fill="#5fcfd3"/>
<path d="M1768.9 173.7L1775.7 185.3H1762.1Z" fill="#5fcfd3"/>
<path d="M1737.7 231.5L1744.5 243.1H1730.9Z" fill="#5fcfd3"/>
<path d="M1763.0 180.6L1769.8 192.2H1756.2Z" fill="#5fcfd3"/>
<path d="M1752.0 227.5L1758.8 239.1H1745.2Z" fill="#5fcfd3"/>
<path d="M1722.4 202.4L1729.2 214.0H1715.6Z" fill="#5fcfd3"/>
<path d="M1696.5 198.0L1703.3 209.6H1689.7Z" fill="#5fcfd3"/>
<path d="M1655.4 204.0L1662.2 215.6H1648.6Z" fill="#5fcfd3"/>
<path d="M1764.2 213.3L1771.0 224.9H1757.4Z" fill="#5fcfd3"/>
<path d="M1697.3 214.0L1704.1 225.6H1690.5Z" fill="#5fcfd3"/>
<path d="M1709.9 160.9L1716.7 172.5H1703.1Z" fill="#5fcfd3"/>
<path d="M1739.5 189.0L1746.3 200.6H1732.7Z" fill="#5fcfd3"/>
<path d="M1728.1 233.5L1734.9 245.1H1721.3Z" fill="#5fcfd3"/>
<path d="M1734.3 183.2L1741.1 194.8H1727.5Z" fill="#5fcfd3"/>
<path d="M1765.8 171.1L1772.6 182.7H1759.0Z" fill="#5fcfd3"/>
<path d="M1735.1 157.6L1741.9 169.2H1728.3Z" fill="#5fcfd3"/>
<path d="M1663.0 188.9L1669.8 200.5H1656.2Z" fill="#5fcfd3"/>
<path d="M1759.9 211.5L1766.7 223.1H1753.1Z" fill="#5fcfd3"/>
<path d="M1673.6 180.3L1680.4 191.9H1666.8Z" fill="#5fcfd3"/>
<path d="M1711.7 169.9L1718.5 181.5H1704.9Z" fill="#5fcfd3"/>
<path d="M1706.0 144.6L1712.8 156.2H1699.2Z" fill="#5fcfd3"/>
<path d="M1722.1 169.2L1728.9 180.8H1715.3Z" fill="#5fcfd3"/>
<path d="M1757.3 161.7L1764.1 173.3H1750.5Z" fill="#5fcfd3"/>
<path d="M1730.1 183.7L1736.9 195.3H1723.3Z" fill="#5fcfd3"/>
<path d="M1730.2 205.6L1737.0 217.2H1723.4Z" fill="#5fcfd3"/>
<path d="M1737.6 157.7L1744.4 169.3H1730.8Z" fill="#5fcfd3"/>
<path d="M1709.1 155.5L1715.9 167.1H1702.3Z" fill="#5fcfd3"/>
<path d="M1741.6 155.5L1748.4 167.1H1734.8Z" fill="#5fcfd3"/>
<path d="M1681.5 173.1L1688.3 184.7H1674.7Z" fill="#5fcfd3"/>
<path d="M1715.3 201.3L1722.1 212.9H1708.5Z" fill="#5fcfd3"/>
<path d="M1747.3 178.1L1754.1 189.7H1740.5Z" fill="#5fcfd3"/>
<path d="M1742.7 150.4L1749.5 162.0H1735.9Z" fill="#5fcfd3"/>
<path d="M1706.2 202.5L1713.0 214.1H1699.4Z" fill="#5fcfd3"/>
<path d="M1768.3 176.3L1775.1 187.9H1761.5Z" fill="#5fcfd3"/>
<path d="M1707.6 205.2L1714.4 216.8H1700.8Z" fill="#5fcfd3"/>
<path d="M1672.4 212.6L1679.2 224.2H1665.6Z" fill="#5fcfd3"/>
<path d="M1731.8 212.2L1738.6 223.8H1725.0Z" fill="#5fcfd3"/>
<path d="M1688.1 232.4L1694.9 244.0H1681.3Z" fill="#5fcfd3"/>
<path d="M1691.9 145.4L1698.7 157.0H1685.1Z" fill="#5fcfd3"/>
<path d="M1710.8 139.7L1717.6 151.3H1704.0Z" fill="#5fcfd3"/>
<path d="M1753.3 154.9L1760.1 166.5H1746.5Z" fill="#5fcfd3"/>
<path d="M1664.7 191.0L1671.5 202.6H1657.9Z" fill="#5fcfd3"/>
<path d="M1758.7 209.2L1765.5 220.8H1751.9Z" fill="#5fcfd3"/>
<path d="M1773.1 188.5L1779.9 200.1H1766.3Z" fill="#5fcfd3"/>
<path d="M1743.6 203.9L1750.4 215.5H1736.8Z" fill="#5fcfd3"/>
<path d="M1720.7 169.5L1727.5 181.1H1713.9Z" fill="#5fcfd3"/>
<path d="M1672.8 226.2L1679.6 237.8H1666.0Z" fill="#5fcfd3"/>
<path d="M1715.8 197.0L1722.6 208.6H1709.0Z" fill="#5fcfd3"/>
<path d="M1671.8 193.1L1678.6 204.7H1665.0Z" fill="#5fcfd3"/>
<path d="M1776.3 191.0L1783.1 202.6H1769.5Z" fill="#5fcfd3"/>
<path d="M1711.3 209.4L1718.1 221.0H1704.5Z" fill="#5fcfd3"/>
<path d="M1653.5 193.4L1660.3 205.0H1646.7Z" fill="#5fcfd3"/>
<path d="M1767.0 186.8L1773.8 198.4H1760.2Z" fill="#5fcfd3"/>
<path d="M1687.6 156.8L1694.4 168.4H1680.8Z" fill="#5fcfd3"/>
<path d="M1670.9 160.6L1677.7 172.2H1664.1Z" fill="#5fcfd3"/>
<path d="M1688.3 174.1L1695.1 185.7H1681.5Z" fill="#5fcfd3"/>
<path d="M1713.9 163.1L1720.7 174.7H1707.1Z" fill="#5fcfd3"/>
<path d="M1671.4 192.5L1678.2 204.1H1664.6Z" fill="#5fcfd3"/>
<path d="M1695.6 180.2L1702.4 191.8H1688.8Z" fill="#5fcfd3"/>
<path d="M1666.2 158.2L1673.0 169.8H1659.4Z" fill="#5fcfd3"/>
<path d="M1731.3 192.4L1738.1 204.0H1724.5Z" fill="#5fcfd3"/>
<path d="M1760.3 201.1L1767.1 212.7H1753.5Z" fill="#5fcfd3"/>
<path d="M1761.0 161.2L1767.8 172.8H1754.2Z" fill="#5fcfd3"/>
<path d="M1745.2 222.0L1752.0 233.6H1738.4Z" fill="#5fcfd3"/>
<path d="M1767.3 169.9L1774.1 181.5H1760.5Z" fill="#5fcfd3"/>
<path d="M1662.7 161.9L1669.5 173.5H1655.9Z" fill="#5fcfd3"/>
<path d="M1679.8 146.9L1686.6 158.5H1673.0Z" fill="#5fcfd3"/>
<path d="M1661.6 179.1L1668.4 190.7H1654.8Z" fill="#5fcfd3"/>
<path d="M1737.3 232.6L1744.1 244.2H1730.5Z" fill="#5fcfd3"/>
<path d="M1712.9 208.8L1719.7 220.4H1706.1Z" fill="#5fcfd3"/>
<path d="M1719.5 190.9L1726.3 202.5H1712.7Z" fill="#5fcfd3"/>
<path d="M1721.8 152.1L1728.6 163.7H1715.0Z" fill="#5fcfd3"/>
<path d="M1669.6 158.2L1676.4 169.8H1662.8Z" fill="#5fcfd3"/>
<path d="M1773.9 185.3L1780.7 196.9H1767.1Z" fill="#5fcfd3"/>
<path d="M1748.5 171.1L1755.3 182.7H1741.7Z" fill="#5fcfd3"/>
<path d="M1708.0 190.9L1714.8 202.5H1701.2Z" fill="#5fcfd3"/>
<path d="M1703.0 199.9L1709.8 211.5H1696.2Z" fill="#5fcfd3"/>
<path d="M1759.3 155.8L1766.1 167.4H1752.5Z" fill="#5fcfd3"/>
<path d="M1706.2 214.5L1713.0 226.1H1699.4Z" fill="#5fcfd3"/>
<path d="M1740.3 227.2L1747.1 238.8H1733.5Z" fill="#5fcfd3"/>
<path d="M1730.1 179.3L1736.9 190.9H1723.3Z" fill="#5fcfd3"/>
<path d="M1726.0 189.8L1732.8 201.4H1719.2Z" fill="#5fcfd3"/>
<path d="M1679.6 232.6L1686.4 244.2H1672.8Z" fill="#5fcfd3"/>
<path d="M1750.3 222.4L1757.1 234.0H1743.5Z" fill="#5fcfd3"/>
<path d="M1739.0 217.4L1745.8 229.0H1732.2Z" fill="#5fcfd3"/>
<path d="M1748.6 179.4L1755.4 191.0H1741.8Z" fill="#5fcfd3"/>
<path d="M1692.9 203.9L1699.7 215.5H1686.1Z" fill="#5fcfd3"/>
<path d="M1735.1 172.2L1741.9 183.8H1728.3Z" fill="#5fcfd3"/>
<path d="M1734.2 196.6L1741.0 208.2H1727.4Z" fill="#5fcfd3"/>
<path d="M1717.0 177.7L1723.8 189.3H1710.2Z" fill="#5fcfd3"/>
<path d="M1739.9 216.8L1746.7 228.4H1733.1Z" fill="#5fcfd3"/>
<path d="M1728.2 214.4L1735.0 226.0H1721.4Z" fill="#5fcfd3"/>
<path d="M1678.6 232.0L1685.4 243.6H1671.8Z" fill="#5fcfd3"/>
<path d="M1731.3 221.9L1738.1 233.5H1724.5Z" fill="#5fcfd3"/>
<path d="M1654.9 199.6L1661.7 211.2H1648.1Z" fill="#5fcfd3"/>
<path d="M1711.9 201.0L1718.7 212.6H1705.1Z" fill="#5fcfd3"/>
<path d="M1701.7 192.1L1708.5 203.7H1694.9Z" fill="#5fcfd3"/>
<path d="M1725.8 175.2L1732.6 186.8H1719.0Z" fill="#5fcfd3"/>
<path d="M1683.4 205.6L1690.2 217.2H1676.6Z" fill="#5fcfd3"/>
<path d="M1747.1 177.7L1753.9 189.3H1740.3Z" fill="#5fcfd3"/>
<path d="M1766.6 215.4L1773.4 227.0H1759.8Z" fill="#5fcfd3"/>
<path d="M1767.7 181.9L1774.5 193.5H1760.9Z" fill="#5fcfd3"/>
<path d="M1677.6 191.8L1684.4 203.4H1670.8Z" fill="#5fcfd3"/>
<path d="M1742.8 186.0L1749.6 197.6H1736.0Z" fill="#5fcfd3"/>
<path d="M1726.6 148.8L1733.4 160.4H1719.8Z" fill="#5fcfd3"/>
<path d="M1729.4 184.6L1736.2 196.2H1722.6Z" fill="#5fcfd3"/>
<path d="M1716.3 149.8L1723.1 161.4H1709.5Z" fill="#5fcfd3"/>
<path d="M1704.7 207.0L1711.5 218.6H1697.9Z" fill="#5fcfd3"/>
<path d="M1706.5 164.3L1713.3 175.9H1699.7Z" fill="#5fcfd3"/>
<path d="M1723.7 180.8L1730.5 192.4H1716.9Z" fill="#5fcfd3"/>
<path d="M1750.3 192.5L1757.1 204.1H1743.5Z" fill="#5fcfd3"/>
<path d="M1744.4 161.8L1751.2 173.4H1737.6Z" fill="#5fcfd3"/>
<path d="M1751.2 202.4L1758.0 214.0H1744.4Z" fill="#5fcfd3"/>
<path d="M1693.3 165.3L1700.1 176.9H1686.5Z" fill="#5fcfd3"/>
<path d="M1721.3 198.9L1728.1 210.5H1714.5Z" fill="#5fcfd3"/>
<path d="M1730.6 216.0L1737.4 227.6H1723.8Z" fill="#5fcfd3"/>
<path d="M1670.3 162.9L1677.1 174.5H1663.5Z" fill="#5fcfd3"/>
<path d="M1681.3 181.4L1688.1 193.0H1674.5Z" fill="#5fcfd3"/>
<path d="M1656.3 207.8L1663.1 219.4H1649.5Z" fill="#5fcfd3"/>
<path d="M1730.3 176.0L1737.1 187.6H1723.5Z" fill="#5fcfd3"/>
<path d="M1709.6 158.9L1716.4 170.5H1702.8Z" fill="#5fcfd3"/>
<path d="M1691.2 215.1L1698.0 226.7H1684.4Z" fill="#5fcfd3"/>
<path d="M1754.5 202.3L1761.3 213.9H1747.7Z" fill="#5fcfd3"/>
<path d="M1749.1 159.1L1755.9 170.7H1742.3Z" fill="#5fcfd3"/>
<path d="M1702.2 163.8L1709.0 175.4H1695.4Z" fill="#5fcfd3"/>
<path d="M1754.6 175.5L1761.4 187.1H1747.8Z" fill="#5fcfd3"/>
<path d="M1688.8 194.4L1695.6 206.0H1682.0Z" fill="#5fcfd3"/>
<path d="M1769.7 181.7L1776.5 193.3H1762.9Z" fill="#5fcfd3"/>
<path d="M1694.7 146.9L1701.5 158.5H1687.9Z" fill="#5fcfd3"/>
<path d="M1721.2 187.7L1728.0 199.3H1714.4Z" fill="#5fcfd3"/>
<path d="M1737.7 168.1L1744.5 179.7H1730.9Z" fill="#5fcfd3"/>
<path d="M1685.8 213.0L1692.6 224.6H1679.0Z" fill="#5fcfd3"/>
<path d="M1743.2 175.2L1750.0 186.8H1736.4Z" fill="#5fcfd3"/>
<path d="M1660.5 211.3L1667.3 222.9H1653.7Z" fill="#5fcfd3"/>
<path d="M1768.7 182.8L1775.5 194.4H1761.9Z" fill="#5fcfd3"/>
<path d="M1753.7 168.8L1760.5 180.4H1746.9Z" fill="#5fcfd3"/>
<path d="M1687.7 178.7L1694.5 190.3H1680.9Z" fill="#5fcfd3"/>
<path d="M1766.2 162.8L1773.0 174.4H1759.4Z" fill="#5fcfd3"/>
<path d="M1721.0 155.3L1727.8 166.9H1714.2Z" fill="#5fcfd3"/>
<path d="M1747.7 229.4L1754.5 241.0H1740.9Z" fill="#5fcfd3"/>
<path d="M1714.6 193.9L1721.4 205.5H1707.8Z" fill="#5fcfd3"/>
<path d="M1733.1 221.3L1739.9 232.9H1726.3Z" fill="#5fcfd3"/>
<path d="M1653.2 194.2L1660.0 205.8H1646.4Z" fill="#5fcfd3"/>
<path d="M1744.7 231.3L1751.5 242.9H1737.9Z" fill="#5fcfd3"/>
<path d="M1745.9 205.0L1752.7 216.6H1739.1Z" fill="#5fcfd3"/>
<path d="M1677.9 159.9L1684.7 171.5H1671.1Z" fill="#5fcfd3"/>
<path d="M1698.1 172.2L1704.9 183.8H1691.3Z" fill="#5fcfd3"/>
<path d="M1735.9 188.6L1742.7 200.2H1729.1Z" fill="#5fcfd3"/>
<path d="M1717.6 212.5L1724.4 224.1H1710.8Z" fill="#5fcfd3"/>
<path d="M1740.8 233.0L1747.6 244.6H1734.0Z" fill="#5fcfd3"/>
<path d="M1735.2 226.5L1742.0 238.1H1728.4Z" fill="#5fcfd3"/>
<path d="M1754.1 224.4L1760.9 236.0H1747.3Z" fill="#5fcfd3"/>
<path d="M1731.6 191.8L1738.4 203.4H1724.8Z" fill="#5fcfd3"/>
<rect x="1632.1" y="280.5" width="10" height="10.3" fill="#a8a8a8"/>
<rect x="1635.5" y="288.3" width="10" height="10.3" fill="#a8a8a8"/>
<rect x="1650.3" y="227.1" width="10" height="10.3" fill="#a8a8a8"/>
<rect x="1718.9" y="163.0" width="10" height="10.3" fill="#a8a8a8"/>
<rect x="1705.6" y="175.5" width="10" height="10.3" fill="#a8a8a8"/>
<rect x="1713.9" y="181.3" width="10" height="10.3" fill="#a8a8a8"/>
<rect x="1744.7" y="178.8" width="10" height="10.3" fill="#a8a8a8"/>
<rect x="1761.3" y="165.5" width="10" height="10.3" fill="#a8a8a8"/>
<rect x="1761.3" y="178.0" width="10" height="10.3" fill="#a8a8a8"/>
<rect x="1706.5" y="205.4" width="10" height="10.3" fill="#a8a8a8"/>
<rect x="1715.6" y="207.9" width="10" height="10.3" fill="#a8a8a8"/>
<rect x="1733.1" y="203.8" width="10" height="10.3" fill="#a8a8a8"/>
<rect x="1744.7" y="206.3" width="10" height="10.3" fill="#a8a8a8"/>
<rect x="1649.9" y="211.2" width="10" height="10.3" fill="#a8a8a8"/>
<rect x="1713.1" y="222.0" width="10" height="10.3" fill="#a8a8a8"/>
<rect x="1781.3" y="179.7" width="10" height="10.3" fill="#a8a8a8"/>
<rect x="1798.7" y="179.7" width="10" height="10.3" fill="#a8a8a8"/>
<rect x="1813.7" y="182.1" width="10" height="10.3" fill="#a8a8a8"/>
<rect x="1824.5" y="118.1" width="10" height="10.3" fill="#a8a8a8"/>
<rect x="1784.6" y="201.3" width="10" height="10.3" fill="#a8a8a8"/>
<rect x="1791.3" y="211.2" width="10" height="10.3" fill="#a8a8a8"/>
<rect x="1799.6" y="196.3" width="10" height="10.3" fill="#a8a8a8"/>
<rect x="1807.9" y="202.9" width="10" height="10.3" fill="#a8a8a8"/>
<rect x="1816.2" y="194.6" width="10" height="10.3" fill="#a8a8a8"/>
<rect x="1785.0" y="224.9" width="10" height="10.3" fill="#a8a8a8"/>
<rect x="1805.0" y="224.9" width="10" height="10.3" fill="#a8a8a8"/>
<rect x="1825.0" y="209.9" width="10" height="10.3" fill="#a8a8a8"/>
<rect x="1651.6" y="227.4" width="10" height="10.3" fill="#a8a8a8"/>
<rect x="1713.1" y="221.5" width="10" height="10.3" fill="#a8a8a8"/>
<rect x="1700.6" y="249.0" width="10" height="10.3" fill="#a8a8a8"/>
<rect x="1685.7" y="264.8" width="10" height="10.3" fill="#a8a8a8"/>
<rect x="1661.6" y="278.1" width="10" height="10.3" fill="#a8a8a8"/>
<rect x="1632.5" y="280.6" width="10" height="10.3" fill="#a8a8a8"/>
<rect x="1635.8" y="288.1" width="10" height="10.3" fill="#a8a8a8"/>
<rect x="1716.4" y="254.0" width="10" height="10.3" fill="#a8a8a8"/>
<rect x="1720.6" y="236.5" width="10" height="10.3" fill="#a8a8a8"/>
<rect x="1731.4" y="244.8" width="10" height="10.3" fill="#a8a8a8"/>
<rect x="1744.7" y="244.0" width="10" height="10.3" fill="#a8a8a8"/>
<rect x="1741.4" y="221.5" width="10" height="10.3" fill="#a8a8a8"/>
<rect x="1751.4" y="224.0" width="10" height="10.3" fill="#a8a8a8"/>
<rect x="1768.0" y="224.9" width="10" height="10.3" fill="#a8a8a8"/>
<rect x="1768.0" y="236.5" width="10" height="10.3" fill="#a8a8a8"/>
<rect x="1761.3" y="244.8" width="10" height="10.3" fill="#a8a8a8"/>
<rect x="1771.3" y="254.8" width="10" height="10.3" fill="#a8a8a8"/>
<rect x="1753.0" y="255.6" width="10" height="10.3" fill="#a8a8a8"/>
<rect x="1784.6" y="219.9" width="10" height="10.3" fill="#a8a8a8"/>
<rect x="1792.9" y="224.9" width="10" height="10.3" fill="#a8a8a8"/>
<rect x="1799.6" y="218.2" width="10" height="10.3" fill="#a8a8a8"/>
<rect x="1784.6" y="233.2" width="10" height="10.3" fill="#a8a8a8"/>
<rect x="1792.9" y="238.2" width="10" height="10.3" fill="#a8a8a8"/>
<rect x="1801.2" y="233.2" width="10" height="10.3" fill="#a8a8a8"/>
<rect x="1789.6" y="248.2" width="10" height="10.3" fill="#a8a8a8"/>
<rect x="1786.3" y="258.1" width="10" height="10.3" fill="#a8a8a8"/>
<rect x="1820.3" y="236.5" width="10" height="10.3" fill="#a8a8a8"/>
<rect x="1822.0" y="254.8" width="10" height="10.3" fill="#a8a8a8"/>
<rect x="1822.0" y="218.2" width="10" height="10.3" fill="#a8a8a8"/>
<rect x="1803.7" y="280.6" width="10" height="10.3" fill="#a8a8a8"/>
<rect x="1811.2" y="283.1" width="10" height="10.3" fill="#a8a8a8"/>
<rect x="1819.5" y="288.1" width="10" height="10.3" fill="#a8a8a8"/>
<rect x="1786.3" y="278.1" width="10" height="10.3" fill="#a8a8a8"/>
<rect x="1743.9" y="271.4" width="10" height="10.3" fill="#a8a8a8"/>
<rect x="1758.0" y="271.4" width="10" height="10.3" fill="#a8a8a8"/>
<rect x="1710.6" y="276.4" width="10" height="10.3" fill="#a8a8a8"/>
<rect x="1688.2" y="284.7" width="10" height="10.3" fill="#a8a8a8"/>
<rect x="1699.8" y="288.9" width="10" height="10.3" fill="#a8a8a8"/>
<rect x="1678.2" y="296.4" width="10" height="10.3" fill="#a8a8a8"/>
<rect x="1688.2" y="296.4" width="10" height="10.3" fill="#a8a8a8"/>
<rect x="1709.8" y="299.7" width="10" height="10.3" fill="#a8a8a8"/>
<rect x="1709.8" y="310.5" width="10" height="10.3" fill="#a8a8a8"/>
<rect x="1728.1" y="307.2" width="10" height="10.3" fill="#a8a8a8"/>
<rect x="1759.7" y="288.1" width="10" height="10.3" fill="#a8a8a8"/>
<rect x="1766.3" y="294.7" width="10" height="10.3" fill="#a8a8a8"/>
<rect x="1787.1" y="308.0" width="10" height="10.3" fill="#a8a8a8"/>
<rect x="1794.6" y="310.5" width="10" height="10.3" fill="#a8a8a8"/>
<rect x="1694.8" y="316.3" width="10" height="10.3" fill="#a8a8a8"/>
<rect x="1670.7" y="313.0" width="10" height="10.3" fill="#a8a8a8"/>
<rect x="1675.7" y="332.9" width="10" height="10.3" fill="#a8a8a8"/>
<rect x="1694.8" y="339.6" width="10" height="10.3" fill="#a8a8a8"/>
<rect x="1748.0" y="329.6" width="10" height="10.3" fill="#a8a8a8"/>
<rect x="1745.5" y="340.4" width="10" height="10.3" fill="#a8a8a8"/>
<rect x="1734.7" y="345.4" width="10" height="10.3" fill="#a8a8a8"/>
<rect x="1765.5" y="349.6" width="10" height="10.3" fill="#a8a8a8"/>
<rect x="1773.0" y="341.3" width="10" height="10.3" fill="#a8a8a8"/>
<rect x="1794.6" y="356.2" width="10" height="10.3" fill="#a8a8a8"/>
<rect x="1804.6" y="357.9" width="10" height="10.3" fill="#a8a8a8"/>
<rect x="1812.9" y="321.3" width="10" height="10.3" fill="#a8a8a8"/>
<rect x="1822.8" y="323.0" width="10" height="10.3" fill="#a8a8a8"/>
<rect x="1649.1" y="328.8" width="10" height="10.3" fill="#a8a8a8"/>
<rect x="1824.9" y="118.5" width="10" height="10.3" fill="#a8a8a8"/>
<rect x="1889.3" y="139.5" width="10" height="10.3" fill="#a8a8a8"/>
<rect x="1923.0" y="146.1" width="10" height="10.3" fill="#a8a8a8"/>
<rect x="1830.7" y="166.9" width="10" height="10.3" fill="#a8a8a8"/>
<rect x="1849.0" y="162.6" width="10" height="10.3" fill="#a8a8a8"/>
<rect x="1843.2" y="169.7" width="10" height="10.3" fill="#a8a8a8"/>
<rect x="1800.0" y="178.9" width="10" height="10.3" fill="#a8a8a8"/>
<rect x="1813.8" y="182.5" width="10" height="10.3" fill="#a8a8a8"/>
<rect x="1849.0" y="180.5" width="10" height="10.3" fill="#a8a8a8"/>
<rect x="1834.9" y="192.2" width="10" height="10.3" fill="#a8a8a8"/>
<rect x="1845.7" y="187.2" width="10" height="10.3" fill="#a8a8a8"/>
<rect x="1845.7" y="196.3" width="10" height="10.3" fill="#a8a8a8"/>
<rect x="1859.0" y="196.3" width="10" height="10.3" fill="#a8a8a8"/>
<rect x="1864.8" y="192.2" width="10" height="10.3" fill="#a8a8a8"/>
<rect x="1813.3" y="204.6" width="10" height="10.3" fill="#a8a8a8"/>
<rect x="1825.8" y="206.3" width="10" height="10.3" fill="#a8a8a8"/>
<rect x="1822.4" y="214.6" width="10" height="10.3" fill="#a8a8a8"/>
<rect x="1829.9" y="216.3" width="10" height="10.3" fill="#a8a8a8"/>
<rect x="1844.9" y="213.8" width="10" height="10.3" fill="#a8a8a8"/>
<rect x="1839.9" y="222.9" width="10" height="10.3" fill="#a8a8a8"/>
<rect x="1837.4" y="229.6" width="10" height="10.3" fill="#a8a8a8"/>
<rect x="1869.0" y="213.3" width="10" height="10.3" fill="#a8a8a8"/>
<rect x="1847.4" y="235.4" width="10" height="10.3" fill="#a8a8a8"/>
<rect x="1870.6" y="237.5" width="10" height="10.3" fill="#a8a8a8"/>
<rect x="1800.0" y="201.3" width="10" height="10.3" fill="#a8a8a8"/>
<rect x="1800.0" y="214.6" width="10" height="10.3" fill="#a8a8a8"/>
<rect x="1800.0" y="231.2" width="10" height="10.3" fill="#a8a8a8"/>
<rect x="1822.4" y="236.2" width="10" height="10.3" fill="#a8a8a8"/>
<rect x="1811.6" y="236.2" width="10" height="10.3" fill="#a8a8a8"/>
<rect x="1824.9" y="226.2" width="10" height="10.3" fill="#a8a8a8"/>
<rect x="1826.1" y="236.5" width="10" height="10.3" fill="#a8a8a8"/>
<rect x="1861.9" y="288.1" width="10" height="10.3" fill="#a8a8a8"/>
<rect x="1880.2" y="294.4" width="10" height="10.3" fill="#a8a8a8"/>
<rect x="1832.4" y="302.8" width="10" height="10.3" fill="#a8a8a8"/>
<rect x="1824.0" y="322.8" width="10" height="10.3" fill="#a8a8a8"/>
<rect x="1834.5" y="343.9" width="10" height="10.3" fill="#a8a8a8"/>
<rect x="1845.0" y="366.0" width="10" height="10.3" fill="#a8a8a8"/>
<rect x="1842.9" y="371.3" width="10" height="10.3" fill="#a8a8a8"/>
<rect x="1811.3" y="283.9" width="10" height="10.3" fill="#a8a8a8"/>
<rect x="1821.8" y="283.9" width="10" height="10.3" fill="#a8a8a8"/>
<rect x="1819.7" y="292.3" width="10" height="10.3" fill="#a8a8a8"/>
<rect x="1826.1" y="256.5" width="10" height="10.3" fill="#a8a8a8"/>
<rect x="1649.4" y="328.5" width="10" height="10.3" fill="#a8a8a8"/>
<rect x="1676.2" y="333.4" width="10" height="10.3" fill="#a8a8a8"/>
<rect x="1627.7" y="408.8" width="10" height="10.3" fill="#a8a8a8"/>
<rect x="1650.9" y="228.1" width="10" height="10.3" fill="#a8a8a8"/>
<rect x="1683.5" y="264.9" width="10" height="10.3" fill="#a8a8a8"/>
<rect x="1631.9" y="280.1" width="10" height="10.3" fill="#a8a8a8"/>
<rect x="1662.0" y="278.0" width="10" height="10.3" fill="#a8a8a8"/>
<rect x="1692.8" y="396.1" width="10" height="10.3" fill="#a8a8a8"/>
<rect x="1714.4" y="399.8" width="10" height="10.3" fill="#a8a8a8"/>
<rect x="1628.3" y="408.9" width="10" height="10.3" fill="#a8a8a8"/>
<rect x="1638.8" y="437.7" width="10" height="10.3" fill="#a8a8a8"/>
<rect x="1654.1" y="455.8" width="10" height="10.3" fill="#a8a8a8"/>
<rect x="1728.9" y="458.8" width="10" height="10.3" fill="#a8a8a8"/>
<rect x="1734.7" y="492.9" width="10" height="10.3" fill="#a8a8a8"/>
<rect x="1793.4" y="428.5" width="10" height="10.3" fill="#a8a8a8"/>
<rect x="1747.2" y="409.8" width="10" height="10.3" fill="#a8a8a8"/>
<rect x="1751.4" y="413.9" width="10" height="10.3" fill="#a8a8a8"/>
<rect x="1792.9" y="392.3" width="10" height="10.3" fill="#a8a8a8"/>
<rect x="1802.9" y="393.5" width="10" height="10.3" fill="#a8a8a8"/>
<rect x="1743.0" y="379.5" width="10" height="10.3" fill="#a8a8a8"/>
<rect x="1780.4" y="374.0" width="10" height="10.3" fill="#a8a8a8"/>
<rect x="1777.1" y="386.5" width="10" height="10.3" fill="#a8a8a8"/>
<rect x="1794.6" y="356.5" width="10" height="10.3" fill="#a8a8a8"/>
<rect x="1803.7" y="359.0" width="10" height="10.3" fill="#a8a8a8"/>
<rect x="1765.5" y="351.6" width="10" height="10.3" fill="#a8a8a8"/>
<rect x="1733.9" y="350.9" width="10" height="10.3" fill="#a8a8a8"/>
<rect x="1693.0" y="396.9" width="10" height="10.3" fill="#a8a8a8"/>
<rect x="1802.4" y="393.4" width="10" height="10.3" fill="#a8a8a8"/>
<rect x="1718.8" y="163.5" width="10" height="10.3" fill="#a8a8a8"/>
<rect x="1705.2" y="175.9" width="10" height="10.3" fill="#a8a8a8"/>
<rect x="1713.9" y="181.5" width="10" height="10.3" fill="#a8a8a8"/>
<rect x="1744.9" y="179.0" width="10" height="10.3" fill="#a8a8a8"/>
<rect x="1761.0" y="177.7" width="10" height="10.3" fill="#a8a8a8"/>
<rect x="1761.0" y="165.3" width="10" height="10.3" fill="#a8a8a8"/>
<rect x="1705.8" y="205.1" width="10" height="10.3" fill="#a8a8a8"/>
<rect x="1715.7" y="206.9" width="10" height="10.3" fill="#a8a8a8"/>
<rect x="1733.1" y="203.8" width="10" height="10.3" fill="#a8a8a8"/>
<rect x="1745.5" y="208.2" width="10" height="10.3" fill="#a8a8a8"/>
<rect x="1713.2" y="221.8" width="10" height="10.3" fill="#a8a8a8"/>
<rect x="1649.9" y="211.3" width="10" height="10.3" fill="#a8a8a8"/>
<rect x="1651.1" y="228.0" width="10" height="10.3" fill="#a8a8a8"/>
<rect x="1741.8" y="224.3" width="10" height="10.3" fill="#a8a8a8"/>
<rect x="1751.7" y="224.3" width="10" height="10.3" fill="#a8a8a8"/>
<rect x="1719.4" y="238.0" width="10" height="10.3" fill="#a8a8a8"/>
<rect x="1771.6" y="206.9" width="10" height="10.3" fill="#a8a8a8"/>
<ellipse cx="1744.6" cy="335.9" rx="76.7" ry="72.2" transform="rotate(8.1 1744.6 335.9)" fill="#00008b" fill-opacity="0.25" stroke="#0a0a5a" stroke-width="2.6"/>
<ellipse cx="1712.3" cy="195.3" rx="68.0" ry="52.6" transform="rotate(179.0 1712.3 195.3)" fill="#5fcfd3" fill-opacity="0.3" stroke="#3a9c9e" stroke-width="2.6"/>
<ellipse cx="1779.1" cy="265.4" rx="79.0" ry="50.8" transform="rotate(121.2 1779.1 265.4)" fill="#a8a8a8" fill-opacity="0.22" stroke="#8c8c8c" stroke-width="2.6"/>
<circle cx="1717.9" cy="197.7" r="4.4" fill="#f02a1e"/>
<circle cx="1783.2" cy="269.1" r="4.4" fill="#f02a1e"/>
<circle cx="1747.1" cy="336.5" r="4.4" fill="#f02a1e"/>
<line x1="192.5" y1="511" x2="192.5" y2="758" stroke="#000" stroke-width="2.4"/>
<line x1="191.3" y1="757" x2="438.3" y2="757" stroke="#000" stroke-width="2.6"/>
<line x1="184.5" y1="568.3" x2="192.5" y2="568.3" stroke="#000" stroke-width="1.6"/>
<text x="177.5" y="577.8" font-size="30" text-anchor="end" textLength="15.22" lengthAdjust="spacingAndGlyphs">2</text>
<line x1="184.5" y1="663.1" x2="192.5" y2="663.1" stroke="#000" stroke-width="1.6"/>
<text x="177.5" y="672.6" font-size="30" text-anchor="end" textLength="15.22" lengthAdjust="spacingAndGlyphs">1</text>
<text x="184.0" y="766.7" font-size="30" text-anchor="end" textLength="15.22" lengthAdjust="spacingAndGlyphs">0</text>
<text x="324.9" y="748.4" font-size="30" textLength="112.34" lengthAdjust="spacingAndGlyphs"><tspan font-style="italic">p</tspan> &lt; 0.001</text>
<rect x="223.7" y="589.9" width="18.8" height="59.5" fill="#d9d9d9" stroke="#333" stroke-width="1"/>
<rect x="219.1" y="604.4" width="28" height="35.4" fill="#a6a6a6" stroke="#333" stroke-width="1"/>
<rect x="214.4" y="614.3" width="37.4" height="20.0" fill="#0a1a8c" stroke="#222" stroke-width="1"/>
<ellipse cx="233.1" cy="625.7" rx="3.2" ry="3.4" fill="#000"/>
<rect x="320.8" y="672.3" width="18.8" height="38.2" fill="#d9d9d9" stroke="#333" stroke-width="1"/>
<rect x="316.2" y="682.2" width="28" height="22.7" fill="#a6a6a6" stroke="#333" stroke-width="1"/>
<rect x="311.5" y="687.8" width="37.4" height="13.1" fill="#5ecfd3" stroke="#222" stroke-width="1"/>
<ellipse cx="330.2" cy="694.0" rx="3.2" ry="3.4" fill="#000"/>
<line x1="820.3" y1="511" x2="820.3" y2="758" stroke="#000" stroke-width="2.4"/>
<line x1="819.0999999999999" y1="757" x2="1116" y2="757" stroke="#000" stroke-width="2.6"/>
<line x1="812.3" y1="567.7" x2="820.3" y2="567.7" stroke="#000" stroke-width="1.6"/>
<text x="804.5" y="577.2" font-size="30" text-anchor="end" textLength="15.22" lengthAdjust="spacingAndGlyphs">2</text>
<line x1="812.3" y1="662.3" x2="820.3" y2="662.3" stroke="#000" stroke-width="1.6"/>
<text x="804.5" y="671.8" font-size="30" text-anchor="end" textLength="15.22" lengthAdjust="spacingAndGlyphs">1</text>
<line x1="812.3" y1="757" x2="820.3" y2="757" stroke="#000" stroke-width="2.0"/>
<text x="804.5" y="765.9" font-size="30" text-anchor="end" textLength="15.22" lengthAdjust="spacingAndGlyphs">0</text>
<text x="1001.2" y="745.2" font-size="30" textLength="112.34" lengthAdjust="spacingAndGlyphs"><tspan font-style="italic">p</tspan> &lt; 0.001</text>
<rect x="868.9" y="572.3" width="18.8" height="48.1" fill="#d9d9d9" stroke="#333" stroke-width="1"/>
<rect x="864.3" y="583.8" width="28" height="28.9" fill="#a6a6a6" stroke="#333" stroke-width="1"/>
<rect x="859.6" y="590.9" width="37.4" height="17.1" fill="#0a1a8c" stroke="#222" stroke-width="1"/>
<ellipse cx="878.3" cy="598.1" rx="3.2" ry="3.4" fill="#000"/>
<rect x="961.1" y="672.3" width="18.8" height="20.7" fill="#d9d9d9" stroke="#333" stroke-width="1"/>
<rect x="956.5" y="676.9" width="28" height="12.4" fill="#a6a6a6" stroke="#333" stroke-width="1"/>
<rect x="951.8" y="679.4" width="37.4" height="7.7" fill="#5ecfd3" stroke="#222" stroke-width="1"/>
<ellipse cx="970.5" cy="683.4" rx="3.2" ry="3.4" fill="#000"/>
<rect x="1053.0" y="554.3" width="18.8" height="73.9" fill="#d9d9d9" stroke="#333" stroke-width="1"/>
<rect x="1048.4" y="574.5" width="28" height="42.2" fill="#a6a6a6" stroke="#333" stroke-width="1"/>
<rect x="1043.7" y="586.3" width="37.4" height="24.2" fill="#a6a6a6" stroke="#222" stroke-width="1"/>
<ellipse cx="1062.4" cy="595.0" rx="3.2" ry="3.4" fill="#000"/>
<line x1="1478.1" y1="511" x2="1478.1" y2="758" stroke="#000" stroke-width="2.4"/>
<line x1="1476.8999999999999" y1="757" x2="1773.9" y2="757" stroke="#000" stroke-width="2.6"/>
<line x1="1470.1" y1="568.3" x2="1478.1" y2="568.3" stroke="#000" stroke-width="1.6"/>
<text x="1463" y="577.8" font-size="30" text-anchor="end" textLength="15.22" lengthAdjust="spacingAndGlyphs">2</text>
<line x1="1470.1" y1="662.3" x2="1478.1" y2="662.3" stroke="#000" stroke-width="1.6"/>
<text x="1463" y="671.8" font-size="30" text-anchor="end" textLength="15.22" lengthAdjust="spacingAndGlyphs">1</text>
<line x1="1470.1" y1="757" x2="1478.1" y2="757" stroke="#000" stroke-width="2.0"/>
<text x="1463" y="765.9" font-size="30" text-anchor="end" textLength="15.22" lengthAdjust="spacingAndGlyphs">0</text>
<text x="1659.7" y="748.3" font-size="30" textLength="112.34" lengthAdjust="spacingAndGlyphs"><tspan font-style="italic">p</tspan> &lt; 0.001</text>
<rect x="1522.4" y="538.2" width="18.8" height="58.9" fill="#d9d9d9" stroke="#333" stroke-width="1"/>
<rect x="1517.8" y="552.1" width="28" height="34.2" fill="#a6a6a6" stroke="#333" stroke-width="1"/>
<rect x="1513.1" y="560.8" width="37.4" height="19.3" fill="#0a1a8c" stroke="#222" stroke-width="1"/>
<ellipse cx="1531.8" cy="571.4" rx="3.2" ry="3.4" fill="#000"/>
<rect x="1611.8" y="620.4" width="18.8" height="30.7" fill="#d9d9d9" stroke="#333" stroke-width="1"/>
<rect x="1607.2" y="627.2" width="28" height="18.1" fill="#a6a6a6" stroke="#333" stroke-width="1"/>
<rect x="1602.5" y="631.9" width="37.4" height="10.9" fill="#5ecfd3" stroke="#222" stroke-width="1"/>
<ellipse cx="1621.2" cy="635.9" rx="3.2" ry="3.4" fill="#000"/>
<rect x="1700.9" y="599.9" width="18.8" height="41.9" fill="#d9d9d9" stroke="#333" stroke-width="1"/>
<rect x="1696.3" y="609.2" width="28" height="24.9" fill="#a6a6a6" stroke="#333" stroke-width="1"/>
<rect x="1691.6" y="614.8" width="37.4" height="14.9" fill="#a6a6a6" stroke="#222" stroke-width="1"/>
<ellipse cx="1710.3" cy="624.5" rx="3.2" ry="3.4" fill="#000"/>
<text transform="translate(154,679.3) rotate(-90)" font-size="33.5" textLength="125.03" lengthAdjust="spacingAndGlyphs">SEA<tspan font-size="19" dy="6.5">B</tspan><tspan font-size="29" dy="-6.5"> (‰</tspan><tspan font-size="19" dy="-11">2</tspan><tspan font-size="29" dy="11">)</tspan></text>
<rect x="109" y="55.6" width="1954.9" height="735.2" fill="none" stroke="#000" stroke-width="4"/>
<line x1="765.5" y1="55" x2="765.5" y2="791" stroke="#000" stroke-width="4.2"/>
<line x1="1421.4" y1="55" x2="1421.4" y2="791" stroke="#000" stroke-width="4.2"/>
<rect x="121" y="70" width="251.5" height="93" fill="#fff" stroke="#000" stroke-width="1.5"/>
<rect x="132.5" y="82.7" width="9.8" height="10.3" fill="#a8a8a8"/>
<polygon points="137.4,109.6 144.1,121.8 130.8,121.8" fill="#5fcfd3"/>
<circle cx="137.4" cy="146.2" r="4.9" fill="#00008b"/>
<text x="153.2" y="95.9" font-size="29.4" textLength="152.91" lengthAdjust="spacingAndGlyphs">Minke whale</text>
<text x="153.4" y="125.1" font-size="29.4" textLength="206.53" lengthAdjust="spacingAndGlyphs">Humpback whale</text>
<text x="153.4" y="152.6" font-size="29.4" textLength="114.23" lengthAdjust="spacingAndGlyphs">Fin whale</text>
<rect x="0" y="900.6" width="1042" height="1.4" fill="#eeeeee"/>
<rect x="1196" y="900.6" width="878" height="1.4" fill="#eeeeee"/>
</svg>
</body></html>
